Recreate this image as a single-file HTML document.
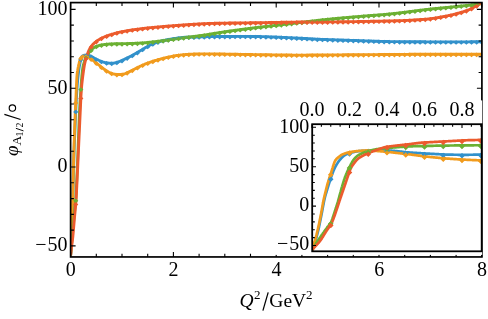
<!DOCTYPE html>
<html><head><meta charset="utf-8"><title>plot</title>
<style>html,body{margin:0;padding:0;background:#fff;}svg{display:block;will-change:transform;}</style></head>
<body>
<svg width="488" height="319" viewBox="0 0 488 319">
<rect width="488" height="319" fill="#fff"/>
<defs><clipPath id="cm"><rect x="70.60" y="2.60" width="411.30" height="254.35"/></clipPath>
<clipPath id="ci"><rect x="312.20" y="124.20" width="169.50" height="127.10"/></clipPath></defs>
<g clip-path="url(#cm)" fill="none" stroke-width="2.90" stroke-linejoin="round" stroke-linecap="butt">
<path d="M70.60 255.33 L70.68 254.07 L70.75 252.77 L70.83 251.42 L70.91 250.03 L70.99 248.58 L71.06 247.09 L71.14 245.54 L71.22 243.94 L71.30 242.29 L71.30 242.22 L71.37 240.57 L71.45 238.80 L71.53 236.96 L71.61 235.06 L71.68 233.09 L71.76 231.06 L71.84 228.99 L71.92 226.89 L71.99 224.74 L72.00 224.57 L72.07 222.55 L72.15 220.30 L72.23 217.99 L72.30 215.62 L72.38 213.17 L72.46 210.65 L72.54 208.05 L72.61 205.36 L72.69 202.59 L72.70 202.26 L72.77 199.81 L72.85 197.01 L72.92 194.19 L73.00 191.36 L73.08 188.52 L73.16 185.67 L73.23 182.81 L73.31 179.94 L73.39 177.05 L73.40 176.57 L73.47 174.08 L73.54 171.06 L73.62 168.01 L73.70 164.97 L73.78 161.98 L73.85 159.06 L73.93 156.24 L74.01 153.57 L74.09 151.11 L74.10 150.64 L74.16 148.84 L74.24 146.73 L74.32 144.73 L74.40 142.82 L74.47 140.96 L74.55 139.11 L74.63 137.25 L74.71 135.37 L74.78 133.50 L74.80 133.04 L74.86 131.63 L74.94 129.77 L75.02 127.92 L75.09 126.08 L75.17 124.25 L75.25 122.44 L75.33 120.64 L75.40 118.86 L75.48 117.09 L75.50 116.59 L75.56 115.34 L75.64 113.60 L75.71 111.89 L75.79 110.20 L75.87 108.53 L75.95 106.90 L76.02 105.30 L76.10 103.74 L76.18 102.21 L76.20 101.72 L76.26 100.72 L76.33 99.27 L76.41 97.85 L76.49 96.48 L76.57 95.15 L76.64 93.86 L76.72 92.61 L76.80 91.40 L76.88 90.24 L76.90 89.82 L76.95 89.11 L77.03 88.01 L77.11 86.94 L77.19 85.90 L77.26 84.89 L77.34 83.91 L77.42 82.95 L77.50 82.03 L77.57 81.13 L77.61 80.78 L77.65 80.26 L77.73 79.42 L77.81 78.60 L77.88 77.82 L77.96 77.05 L78.04 76.32 L78.12 75.61 L78.19 74.92 L78.27 74.26 L78.31 73.97 L78.35 73.61 L78.43 72.98 L78.50 72.36 L78.58 71.75 L78.66 71.15 L78.74 70.56 L78.81 69.98 L78.89 69.42 L78.97 68.87 L79.01 68.62 L79.05 68.34 L79.12 67.83 L79.20 67.33 L79.28 66.85 L79.36 66.38 L79.43 65.94 L79.51 65.51 L79.59 65.11 L79.67 64.72 L79.71 64.52 L79.74 64.34 L79.82 63.96 L79.90 63.58 L79.98 63.21 L80.05 62.83 L80.13 62.46 L80.21 62.09 L80.29 61.73 L80.36 61.37 L80.41 61.17 L80.44 61.02 L80.52 60.67 L80.60 60.34 L80.67 60.01 L80.75 59.69 L80.83 59.38 L80.91 59.08 L80.98 58.79 L81.06 58.52 L81.11 58.36 L81.14 58.25 L81.22 58.00 L81.29 57.77 L81.37 57.55 L81.45 57.34 L81.53 57.15 L81.60 56.98 L81.68 56.83 L81.76 56.69 L81.81 56.62 L81.84 56.58 L81.91 56.48 L81.99 56.41 L82.07 56.35 L82.15 56.29 L82.22 56.23 L82.30 56.17 L82.38 56.12 L82.46 56.06 L82.51 56.03 L82.53 56.01 L82.61 55.96 L82.69 55.91 L82.77 55.87 L82.84 55.82 L82.92 55.78 L83.00 55.73 L83.08 55.69 L83.15 55.65 L83.21 55.62 L83.23 55.61 L83.31 55.58 L83.39 55.54 L83.46 55.51 L83.54 55.48 L83.62 55.45 L83.70 55.42 L83.77 55.39 L83.85 55.37 L83.91 55.35 L83.93 55.34 L84.01 55.32 L84.08 55.30 L84.16 55.28 L84.24 55.27 L84.32 55.25 L84.39 55.24 L84.47 55.23 L84.55 55.22 L84.61 55.21 L84.63 55.21 L84.70 55.20 L84.78 55.20 L84.86 55.20 L84.94 55.19 L85.01 55.19 L85.09 55.19 L85.17 55.18 L85.25 55.18 L85.31 55.17 L85.32 55.17 L85.40 55.17 L85.48 55.16 L85.56 55.16 L85.63 55.15 L85.71 55.15 L85.79 55.14 L85.87 55.14 L85.94 55.13 L86.01 55.13 L86.02 55.13 L86.71 55.12 L87.41 55.18 L88.11 55.32 L88.81 55.48 L89.51 55.68 L90.21 55.93 L90.91 56.25 L91.62 56.60 L92.32 56.97 L93.02 57.36 L93.72 57.75 L94.42 58.15 L95.12 58.54 L95.82 58.91 L96.52 59.27 L97.22 59.60 L97.92 59.92 L98.62 60.23 L99.32 60.54 L100.02 60.83 L100.72 61.12 L101.42 61.39 L102.12 61.64 L102.82 61.88 L103.52 62.09 L104.22 62.28 L104.93 62.45 L105.63 62.60 L106.33 62.73 L107.03 62.85 L107.73 62.95 L108.43 63.04 L109.13 63.11 L109.83 63.17 L110.53 63.21 L111.23 63.23 L111.93 63.22 L112.63 63.19 L113.33 63.13 L114.03 63.04 L114.73 62.91 L115.43 62.74 L116.13 62.55 L116.83 62.36 L117.53 62.15 L118.23 61.92 L118.94 61.68 L119.64 61.43 L120.34 61.16 L121.04 60.86 L121.74 60.55 L122.44 60.23 L123.14 59.90 L123.84 59.58 L124.54 59.25 L125.24 58.91 L125.94 58.57 L126.64 58.23 L127.34 57.88 L128.04 57.54 L128.74 57.19 L129.44 56.85 L130.14 56.50 L130.84 56.15 L131.54 55.79 L132.24 55.41 L132.95 55.03 L133.65 54.64 L134.35 54.24 L135.05 53.84 L135.75 53.43 L136.45 53.02 L137.15 52.61 L137.85 52.20 L138.55 51.78 L139.25 51.37 L139.95 50.96 L140.65 50.54 L141.35 50.12 L142.05 49.70 L142.75 49.28 L143.45 48.86 L144.15 48.44 L144.85 48.02 L145.55 47.61 L146.26 47.21 L146.96 46.81 L147.66 46.43 L148.36 46.06 L149.06 45.69 L149.76 45.32 L150.46 44.97 L151.16 44.63 L151.86 44.30 L152.56 43.99 L153.26 43.69 L153.96 43.40 L154.66 43.13 L155.36 42.87 L156.06 42.61 L156.76 42.37 L157.46 42.14 L158.16 41.92 L158.86 41.70 L159.56 41.50 L160.27 41.31 L160.97 41.12 L161.67 40.95 L162.37 40.78 L163.07 40.63 L163.77 40.47 L164.47 40.32 L165.17 40.17 L165.87 40.02 L166.57 39.88 L167.27 39.74 L167.97 39.60 L168.67 39.47 L169.37 39.34 L170.07 39.21 L170.77 39.09 L171.47 38.98 L172.17 38.86 L172.87 38.75 L173.58 38.65 L174.28 38.55 L174.98 38.45 L175.68 38.35 L176.38 38.25 L177.08 38.16 L177.78 38.06 L178.48 37.97 L179.18 37.88 L179.88 37.79 L180.58 37.70 L181.28 37.62 L181.98 37.55 L182.68 37.48 L183.38 37.41 L184.08 37.36 L184.78 37.31 L185.48 37.26 L186.18 37.23 L186.88 37.20 L187.59 37.18 L188.29 37.17 L188.99 37.15 L189.69 37.13 L190.39 37.11 L191.09 37.10 L191.79 37.08 L192.49 37.06 L193.19 37.05 L193.89 37.03 L194.59 37.01 L195.29 36.99 L195.99 36.98 L196.69 36.96 L197.39 36.94 L198.09 36.92 L198.79 36.91 L199.49 36.89 L200.19 36.87 L200.90 36.85 L201.60 36.83 L202.30 36.81 L203.00 36.79 L203.70 36.77 L204.40 36.75 L205.10 36.73 L205.80 36.71 L206.50 36.69 L207.20 36.67 L207.90 36.65 L208.60 36.63 L209.30 36.62 L210.00 36.60 L210.70 36.59 L211.40 36.57 L212.10 36.56 L212.80 36.55 L213.50 36.55 L214.20 36.54 L214.91 36.53 L215.61 36.53 L216.31 36.52 L217.01 36.52 L217.71 36.51 L218.41 36.51 L219.11 36.51 L219.81 36.50 L220.51 36.50 L221.21 36.49 L221.91 36.49 L222.61 36.48 L223.31 36.48 L224.01 36.47 L224.71 36.47 L225.41 36.46 L226.11 36.46 L226.81 36.46 L227.51 36.45 L228.21 36.45 L228.92 36.44 L229.62 36.44 L230.32 36.44 L231.02 36.43 L231.72 36.43 L232.42 36.43 L233.12 36.42 L233.82 36.42 L234.52 36.42 L235.22 36.42 L235.92 36.41 L236.62 36.41 L237.32 36.41 L238.02 36.41 L238.72 36.40 L239.42 36.40 L240.12 36.40 L240.82 36.40 L241.52 36.40 L242.23 36.40 L242.93 36.40 L243.63 36.40 L244.33 36.40 L245.03 36.40 L245.73 36.40 L246.43 36.41 L247.13 36.41 L247.83 36.41 L248.53 36.42 L249.23 36.43 L249.93 36.43 L250.63 36.44 L251.33 36.44 L252.03 36.45 L252.73 36.46 L253.43 36.47 L254.13 36.48 L254.83 36.49 L255.53 36.50 L256.24 36.51 L256.94 36.52 L257.64 36.53 L258.34 36.55 L259.04 36.56 L259.74 36.57 L260.44 36.59 L261.14 36.60 L261.84 36.62 L262.54 36.64 L263.24 36.65 L263.94 36.67 L264.64 36.69 L265.34 36.71 L266.04 36.73 L266.74 36.75 L267.44 36.77 L268.14 36.79 L268.84 36.81 L269.55 36.83 L270.25 36.85 L270.95 36.88 L271.65 36.90 L272.35 36.93 L273.05 36.95 L273.75 36.98 L274.45 37.00 L275.15 37.03 L275.85 37.06 L276.55 37.09 L277.25 37.12 L277.95 37.14 L278.65 37.17 L279.35 37.20 L280.05 37.24 L280.75 37.27 L281.45 37.30 L282.15 37.33 L282.85 37.36 L283.56 37.39 L284.26 37.43 L284.96 37.46 L285.66 37.49 L286.36 37.53 L287.06 37.56 L287.76 37.59 L288.46 37.63 L289.16 37.66 L289.86 37.69 L290.56 37.73 L291.26 37.76 L291.96 37.80 L292.66 37.83 L293.36 37.86 L294.06 37.90 L294.76 37.93 L295.46 37.97 L296.16 38.00 L296.87 38.04 L297.57 38.07 L298.27 38.11 L298.97 38.14 L299.67 38.18 L300.37 38.22 L301.07 38.25 L301.77 38.29 L302.47 38.32 L303.17 38.36 L303.87 38.40 L304.57 38.44 L305.27 38.48 L305.97 38.52 L306.67 38.56 L307.37 38.61 L308.07 38.65 L308.77 38.69 L309.47 38.74 L310.17 38.78 L310.88 38.82 L311.58 38.86 L312.28 38.90 L312.98 38.95 L313.68 38.99 L314.38 39.03 L315.08 39.07 L315.78 39.10 L316.48 39.14 L317.18 39.17 L317.88 39.21 L318.58 39.24 L319.28 39.27 L319.98 39.30 L320.68 39.33 L321.38 39.35 L322.08 39.38 L322.78 39.41 L323.48 39.43 L324.19 39.46 L324.89 39.48 L325.59 39.51 L326.29 39.53 L326.99 39.56 L327.69 39.58 L328.39 39.61 L329.09 39.63 L329.79 39.66 L330.49 39.68 L331.19 39.70 L331.89 39.73 L332.59 39.75 L333.29 39.78 L333.99 39.80 L334.69 39.82 L335.39 39.85 L336.09 39.87 L336.79 39.89 L337.49 39.92 L338.20 39.94 L338.90 39.96 L339.60 39.99 L340.30 40.01 L341.00 40.03 L341.70 40.06 L342.40 40.08 L343.10 40.10 L343.80 40.13 L344.50 40.15 L345.20 40.17 L345.90 40.20 L346.60 40.22 L347.30 40.24 L348.00 40.27 L348.70 40.29 L349.40 40.31 L350.10 40.34 L350.80 40.36 L351.50 40.38 L352.21 40.41 L352.91 40.43 L353.61 40.45 L354.31 40.48 L355.01 40.50 L355.71 40.52 L356.41 40.55 L357.11 40.57 L357.81 40.59 L358.51 40.62 L359.21 40.64 L359.91 40.66 L360.61 40.69 L361.31 40.71 L362.01 40.73 L362.71 40.76 L363.41 40.78 L364.11 40.81 L364.81 40.83 L365.52 40.85 L366.22 40.88 L366.92 40.90 L367.62 40.93 L368.32 40.95 L369.02 40.97 L369.72 41.00 L370.42 41.02 L371.12 41.05 L371.82 41.07 L372.52 41.10 L373.22 41.12 L373.92 41.14 L374.62 41.17 L375.32 41.19 L376.02 41.22 L376.72 41.24 L377.42 41.26 L378.12 41.29 L378.82 41.31 L379.53 41.34 L380.23 41.36 L380.93 41.38 L381.63 41.40 L382.33 41.43 L383.03 41.45 L383.73 41.47 L384.43 41.48 L385.13 41.50 L385.83 41.52 L386.53 41.53 L387.23 41.55 L387.93 41.56 L388.63 41.57 L389.33 41.58 L390.03 41.59 L390.73 41.60 L391.43 41.61 L392.13 41.62 L392.84 41.63 L393.54 41.64 L394.24 41.64 L394.94 41.65 L395.64 41.66 L396.34 41.66 L397.04 41.67 L397.74 41.67 L398.44 41.68 L399.14 41.68 L399.84 41.69 L400.54 41.69 L401.24 41.70 L401.94 41.70 L402.64 41.70 L403.34 41.71 L404.04 41.71 L404.74 41.72 L405.44 41.72 L406.14 41.73 L406.85 41.73 L407.55 41.73 L408.25 41.74 L408.95 41.74 L409.65 41.75 L410.35 41.75 L411.05 41.75 L411.75 41.76 L412.45 41.76 L413.15 41.77 L413.85 41.77 L414.55 41.77 L415.25 41.78 L415.95 41.78 L416.65 41.78 L417.35 41.79 L418.05 41.79 L418.75 41.79 L419.45 41.80 L420.16 41.80 L420.86 41.80 L421.56 41.81 L422.26 41.81 L422.96 41.81 L423.66 41.82 L424.36 41.82 L425.06 41.82 L425.76 41.83 L426.46 41.83 L427.16 41.83 L427.86 41.83 L428.56 41.84 L429.26 41.84 L429.96 41.84 L430.66 41.85 L431.36 41.85 L432.06 41.85 L432.76 41.85 L433.46 41.86 L434.17 41.86 L434.87 41.86 L435.57 41.86 L436.27 41.87 L436.97 41.87 L437.67 41.87 L438.37 41.87 L439.07 41.87 L439.77 41.88 L440.47 41.88 L441.17 41.88 L441.87 41.88 L442.57 41.88 L443.27 41.89 L443.97 41.89 L444.67 41.89 L445.37 41.89 L446.07 41.89 L446.77 41.89 L447.47 41.90 L448.18 41.90 L448.88 41.90 L449.58 41.90 L450.28 41.90 L450.98 41.90 L451.68 41.90 L452.38 41.90 L453.08 41.90 L453.78 41.90 L454.48 41.90 L455.18 41.90 L455.88 41.90 L456.58 41.90 L457.28 41.89 L457.98 41.89 L458.68 41.89 L459.38 41.89 L460.08 41.88 L460.78 41.88 L461.49 41.88 L462.19 41.87 L462.89 41.87 L463.59 41.87 L464.29 41.86 L464.99 41.86 L465.69 41.85 L466.39 41.85 L467.09 41.84 L467.79 41.84 L468.49 41.83 L469.19 41.83 L469.89 41.82 L470.59 41.81 L471.29 41.81 L471.99 41.80 L472.69 41.79 L473.39 41.79 L474.09 41.78 L474.79 41.77 L475.50 41.77 L476.20 41.76 L476.90 41.75 L477.60 41.75 L478.30 41.74 L479.00 41.73 L479.70 41.72 L480.40 41.72 L481.10 41.71 L481.80 41.70" stroke="#3291cb"/>
<path d="M70.60 255.33 L70.68 253.66 L70.75 251.95 L70.83 250.21 L70.91 248.42 L70.99 246.60 L71.06 244.74 L71.14 242.85 L71.22 240.92 L71.30 238.96 L71.30 238.88 L71.37 236.96 L71.45 234.93 L71.53 232.87 L71.61 230.77 L71.68 228.65 L71.76 226.49 L71.84 224.29 L71.92 222.06 L71.99 219.78 L72.00 219.59 L72.07 217.46 L72.15 215.08 L72.23 212.65 L72.30 210.17 L72.38 207.62 L72.46 205.01 L72.54 202.34 L72.61 199.62 L72.69 196.85 L72.70 196.52 L72.77 194.05 L72.85 191.21 L72.92 188.34 L73.00 185.44 L73.08 182.53 L73.16 179.60 L73.23 176.62 L73.31 173.50 L73.39 170.28 L73.40 169.76 L73.47 167.04 L73.54 163.83 L73.62 160.70 L73.70 157.72 L73.78 154.95 L73.85 152.36 L73.93 149.87 L74.01 147.47 L74.09 145.13 L74.10 144.66 L74.16 142.83 L74.24 140.56 L74.32 138.30 L74.40 136.02 L74.47 133.70 L74.55 131.37 L74.63 129.05 L74.71 126.77 L74.78 124.57 L74.80 124.05 L74.86 122.47 L74.94 120.50 L75.02 118.66 L75.09 116.85 L75.17 115.08 L75.25 113.32 L75.33 111.59 L75.40 109.86 L75.48 108.14 L75.50 107.66 L75.56 106.42 L75.64 104.70 L75.71 102.96 L75.79 101.21 L75.87 99.44 L75.95 97.65 L76.02 95.84 L76.10 94.02 L76.18 92.20 L76.20 91.61 L76.26 90.38 L76.33 88.57 L76.41 86.77 L76.49 85.00 L76.57 83.25 L76.64 81.55 L76.72 80.01 L76.80 78.64 L76.88 77.41 L76.90 77.00 L76.95 76.33 L77.03 75.36 L77.11 74.51 L77.19 73.75 L77.26 73.07 L77.34 72.47 L77.42 71.92 L77.50 71.42 L77.57 70.95 L77.61 70.77 L77.65 70.50 L77.73 70.05 L77.81 69.61 L77.88 69.17 L77.96 68.73 L78.04 68.30 L78.12 67.87 L78.19 67.45 L78.27 67.03 L78.31 66.85 L78.35 66.63 L78.43 66.23 L78.50 65.84 L78.58 65.46 L78.66 65.09 L78.74 64.73 L78.81 64.38 L78.89 64.05 L78.97 63.72 L79.01 63.57 L79.05 63.42 L79.12 63.12 L79.20 62.83 L79.28 62.53 L79.36 62.23 L79.43 61.93 L79.51 61.63 L79.59 61.34 L79.67 61.05 L79.71 60.90 L79.74 60.76 L79.82 60.48 L79.90 60.22 L79.98 59.96 L80.05 59.71 L80.13 59.48 L80.21 59.26 L80.29 59.06 L80.36 58.88 L80.41 58.78 L80.44 58.71 L80.52 58.57 L80.60 58.43 L80.67 58.30 L80.75 58.18 L80.83 58.05 L80.91 57.94 L80.98 57.82 L81.06 57.72 L81.11 57.65 L81.14 57.61 L81.22 57.51 L81.29 57.41 L81.37 57.32 L81.45 57.23 L81.53 57.15 L81.60 57.07 L81.68 56.99 L81.76 56.92 L81.81 56.88 L81.84 56.85 L81.91 56.79 L81.99 56.73 L82.07 56.67 L82.15 56.61 L82.22 56.56 L82.30 56.52 L82.38 56.47 L82.46 56.43 L82.51 56.41 L82.53 56.40 L82.61 56.37 L82.69 56.34 L82.77 56.31 L82.84 56.29 L82.92 56.26 L83.00 56.24 L83.08 56.22 L83.15 56.19 L83.21 56.18 L83.23 56.17 L83.31 56.15 L83.39 56.12 L83.46 56.10 L83.54 56.08 L83.62 56.06 L83.70 56.04 L83.77 56.02 L83.85 56.00 L83.91 55.98 L83.93 55.98 L84.01 55.96 L84.08 55.95 L84.16 55.93 L84.24 55.92 L84.32 55.91 L84.39 55.90 L84.47 55.89 L84.55 55.89 L84.61 55.88 L84.63 55.88 L84.70 55.88 L84.78 55.88 L84.86 55.88 L84.94 55.89 L85.01 55.89 L85.09 55.90 L85.17 55.92 L85.25 55.93 L85.31 55.95 L85.32 55.95 L85.40 55.97 L85.48 55.99 L85.56 56.02 L85.63 56.04 L85.71 56.07 L85.79 56.10 L85.87 56.12 L85.94 56.15 L86.01 56.17 L86.02 56.18 L86.71 56.42 L87.41 56.69 L88.11 56.99 L88.81 57.34 L89.51 57.74 L90.21 58.21 L90.91 58.75 L91.62 59.30 L92.32 59.85 L93.02 60.40 L93.72 60.95 L94.42 61.51 L95.12 62.06 L95.82 62.62 L96.52 63.18 L97.22 63.74 L97.92 64.30 L98.62 64.86 L99.32 65.42 L100.02 65.99 L100.72 66.55 L101.42 67.12 L102.12 67.68 L102.82 68.24 L103.52 68.79 L104.22 69.30 L104.93 69.79 L105.63 70.26 L106.33 70.70 L107.03 71.12 L107.73 71.52 L108.43 71.90 L109.13 72.27 L109.83 72.60 L110.53 72.90 L111.23 73.17 L111.93 73.41 L112.63 73.62 L113.33 73.81 L114.03 73.97 L114.73 74.11 L115.43 74.24 L116.13 74.34 L116.83 74.43 L117.53 74.49 L118.23 74.52 L118.94 74.53 L119.64 74.52 L120.34 74.48 L121.04 74.43 L121.74 74.36 L122.44 74.26 L123.14 74.14 L123.84 73.97 L124.54 73.77 L125.24 73.51 L125.94 73.23 L126.64 72.94 L127.34 72.63 L128.04 72.32 L128.74 72.00 L129.44 71.67 L130.14 71.33 L130.84 70.98 L131.54 70.63 L132.24 70.28 L132.95 69.92 L133.65 69.55 L134.35 69.19 L135.05 68.83 L135.75 68.46 L136.45 68.10 L137.15 67.74 L137.85 67.39 L138.55 67.04 L139.25 66.69 L139.95 66.36 L140.65 66.03 L141.35 65.71 L142.05 65.39 L142.75 65.08 L143.45 64.78 L144.15 64.49 L144.85 64.19 L145.55 63.91 L146.26 63.63 L146.96 63.36 L147.66 63.09 L148.36 62.83 L149.06 62.58 L149.76 62.33 L150.46 62.08 L151.16 61.84 L151.86 61.61 L152.56 61.38 L153.26 61.15 L153.96 60.93 L154.66 60.71 L155.36 60.50 L156.06 60.29 L156.76 60.08 L157.46 59.88 L158.16 59.68 L158.86 59.48 L159.56 59.29 L160.27 59.10 L160.97 58.91 L161.67 58.73 L162.37 58.54 L163.07 58.37 L163.77 58.19 L164.47 58.02 L165.17 57.85 L165.87 57.68 L166.57 57.51 L167.27 57.35 L167.97 57.19 L168.67 57.04 L169.37 56.88 L170.07 56.73 L170.77 56.59 L171.47 56.44 L172.17 56.30 L172.87 56.17 L173.58 56.03 L174.28 55.91 L174.98 55.78 L175.68 55.66 L176.38 55.55 L177.08 55.44 L177.78 55.34 L178.48 55.24 L179.18 55.15 L179.88 55.07 L180.58 54.99 L181.28 54.92 L181.98 54.86 L182.68 54.79 L183.38 54.73 L184.08 54.67 L184.78 54.62 L185.48 54.56 L186.18 54.51 L186.88 54.46 L187.59 54.41 L188.29 54.36 L188.99 54.32 L189.69 54.28 L190.39 54.24 L191.09 54.20 L191.79 54.16 L192.49 54.13 L193.19 54.10 L193.89 54.07 L194.59 54.04 L195.29 54.01 L195.99 53.99 L196.69 53.97 L197.39 53.95 L198.09 53.94 L198.79 53.93 L199.49 53.92 L200.19 53.91 L200.90 53.90 L201.60 53.90 L202.30 53.90 L203.00 53.90 L203.70 53.90 L204.40 53.90 L205.10 53.90 L205.80 53.90 L206.50 53.90 L207.20 53.90 L207.90 53.91 L208.60 53.91 L209.30 53.91 L210.00 53.91 L210.70 53.91 L211.40 53.92 L212.10 53.92 L212.80 53.92 L213.50 53.93 L214.20 53.93 L214.91 53.94 L215.61 53.95 L216.31 53.95 L217.01 53.96 L217.71 53.97 L218.41 53.98 L219.11 53.99 L219.81 54.00 L220.51 54.01 L221.21 54.02 L221.91 54.03 L222.61 54.04 L223.31 54.05 L224.01 54.07 L224.71 54.08 L225.41 54.09 L226.11 54.10 L226.81 54.11 L227.51 54.12 L228.21 54.14 L228.92 54.15 L229.62 54.16 L230.32 54.17 L231.02 54.19 L231.72 54.20 L232.42 54.21 L233.12 54.22 L233.82 54.24 L234.52 54.25 L235.22 54.26 L235.92 54.28 L236.62 54.29 L237.32 54.30 L238.02 54.31 L238.72 54.33 L239.42 54.34 L240.12 54.35 L240.82 54.36 L241.52 54.38 L242.23 54.39 L242.93 54.40 L243.63 54.42 L244.33 54.43 L245.03 54.44 L245.73 54.45 L246.43 54.47 L247.13 54.48 L247.83 54.49 L248.53 54.50 L249.23 54.51 L249.93 54.53 L250.63 54.54 L251.33 54.55 L252.03 54.56 L252.73 54.57 L253.43 54.59 L254.13 54.60 L254.83 54.61 L255.53 54.62 L256.24 54.63 L256.94 54.64 L257.64 54.65 L258.34 54.66 L259.04 54.67 L259.74 54.68 L260.44 54.69 L261.14 54.70 L261.84 54.71 L262.54 54.72 L263.24 54.73 L263.94 54.74 L264.64 54.75 L265.34 54.76 L266.04 54.77 L266.74 54.78 L267.44 54.79 L268.14 54.80 L268.84 54.81 L269.55 54.82 L270.25 54.83 L270.95 54.84 L271.65 54.85 L272.35 54.86 L273.05 54.87 L273.75 54.88 L274.45 54.89 L275.15 54.90 L275.85 54.91 L276.55 54.92 L277.25 54.93 L277.95 54.94 L278.65 54.95 L279.35 54.96 L280.05 54.97 L280.75 54.98 L281.45 54.98 L282.15 54.99 L282.85 55.00 L283.56 55.01 L284.26 55.02 L284.96 55.02 L285.66 55.03 L286.36 55.04 L287.06 55.04 L287.76 55.05 L288.46 55.06 L289.16 55.06 L289.86 55.07 L290.56 55.07 L291.26 55.08 L291.96 55.08 L292.66 55.08 L293.36 55.09 L294.06 55.09 L294.76 55.09 L295.46 55.10 L296.16 55.10 L296.87 55.10 L297.57 55.10 L298.27 55.10 L298.97 55.10 L299.67 55.10 L300.37 55.10 L301.07 55.10 L301.77 55.10 L302.47 55.10 L303.17 55.10 L303.87 55.09 L304.57 55.09 L305.27 55.09 L305.97 55.09 L306.67 55.08 L307.37 55.08 L308.07 55.08 L308.77 55.07 L309.47 55.07 L310.17 55.07 L310.88 55.06 L311.58 55.06 L312.28 55.05 L312.98 55.05 L313.68 55.04 L314.38 55.04 L315.08 55.03 L315.78 55.03 L316.48 55.03 L317.18 55.02 L317.88 55.02 L318.58 55.01 L319.28 55.01 L319.98 55.00 L320.68 55.00 L321.38 54.99 L322.08 54.98 L322.78 54.98 L323.48 54.97 L324.19 54.97 L324.89 54.96 L325.59 54.96 L326.29 54.95 L326.99 54.95 L327.69 54.94 L328.39 54.94 L329.09 54.93 L329.79 54.93 L330.49 54.92 L331.19 54.92 L331.89 54.91 L332.59 54.91 L333.29 54.90 L333.99 54.90 L334.69 54.89 L335.39 54.89 L336.09 54.88 L336.79 54.88 L337.49 54.87 L338.20 54.87 L338.90 54.86 L339.60 54.86 L340.30 54.85 L341.00 54.85 L341.70 54.84 L342.40 54.84 L343.10 54.83 L343.80 54.83 L344.50 54.82 L345.20 54.82 L345.90 54.81 L346.60 54.81 L347.30 54.80 L348.00 54.80 L348.70 54.79 L349.40 54.78 L350.10 54.78 L350.80 54.77 L351.50 54.77 L352.21 54.76 L352.91 54.76 L353.61 54.75 L354.31 54.75 L355.01 54.74 L355.71 54.74 L356.41 54.73 L357.11 54.73 L357.81 54.72 L358.51 54.72 L359.21 54.71 L359.91 54.71 L360.61 54.70 L361.31 54.70 L362.01 54.69 L362.71 54.69 L363.41 54.68 L364.11 54.68 L364.81 54.67 L365.52 54.67 L366.22 54.66 L366.92 54.66 L367.62 54.65 L368.32 54.65 L369.02 54.64 L369.72 54.64 L370.42 54.63 L371.12 54.63 L371.82 54.62 L372.52 54.62 L373.22 54.61 L373.92 54.61 L374.62 54.60 L375.32 54.60 L376.02 54.59 L376.72 54.58 L377.42 54.58 L378.12 54.57 L378.82 54.57 L379.53 54.56 L380.23 54.56 L380.93 54.55 L381.63 54.55 L382.33 54.54 L383.03 54.54 L383.73 54.53 L384.43 54.53 L385.13 54.52 L385.83 54.52 L386.53 54.51 L387.23 54.51 L387.93 54.50 L388.63 54.50 L389.33 54.49 L390.03 54.49 L390.73 54.48 L391.43 54.48 L392.13 54.47 L392.84 54.47 L393.54 54.46 L394.24 54.46 L394.94 54.45 L395.64 54.45 L396.34 54.44 L397.04 54.44 L397.74 54.43 L398.44 54.43 L399.14 54.42 L399.84 54.42 L400.54 54.41 L401.24 54.41 L401.94 54.40 L402.64 54.39 L403.34 54.39 L404.04 54.38 L404.74 54.37 L405.44 54.37 L406.14 54.36 L406.85 54.35 L407.55 54.34 L408.25 54.33 L408.95 54.32 L409.65 54.31 L410.35 54.30 L411.05 54.29 L411.75 54.28 L412.45 54.27 L413.15 54.26 L413.85 54.25 L414.55 54.24 L415.25 54.24 L415.95 54.23 L416.65 54.22 L417.35 54.22 L418.05 54.21 L418.75 54.21 L419.45 54.20 L420.16 54.20 L420.86 54.20 L421.56 54.20 L422.26 54.19 L422.96 54.19 L423.66 54.19 L424.36 54.19 L425.06 54.20 L425.76 54.20 L426.46 54.20 L427.16 54.20 L427.86 54.20 L428.56 54.20 L429.26 54.21 L429.96 54.21 L430.66 54.21 L431.36 54.22 L432.06 54.22 L432.76 54.22 L433.46 54.23 L434.17 54.23 L434.87 54.23 L435.57 54.24 L436.27 54.24 L436.97 54.25 L437.67 54.25 L438.37 54.25 L439.07 54.26 L439.77 54.26 L440.47 54.27 L441.17 54.27 L441.87 54.27 L442.57 54.28 L443.27 54.28 L443.97 54.28 L444.67 54.29 L445.37 54.29 L446.07 54.29 L446.77 54.29 L447.47 54.30 L448.18 54.30 L448.88 54.30 L449.58 54.30 L450.28 54.30 L450.98 54.30 L451.68 54.30 L452.38 54.30 L453.08 54.30 L453.78 54.30 L454.48 54.30 L455.18 54.30 L455.88 54.30 L456.58 54.30 L457.28 54.30 L457.98 54.31 L458.68 54.31 L459.38 54.31 L460.08 54.31 L460.78 54.31 L461.49 54.31 L462.19 54.31 L462.89 54.31 L463.59 54.31 L464.29 54.31 L464.99 54.31 L465.69 54.31 L466.39 54.31 L467.09 54.31 L467.79 54.31 L468.49 54.31 L469.19 54.31 L469.89 54.31 L470.59 54.31 L471.29 54.31 L471.99 54.31 L472.69 54.31 L473.39 54.31 L474.09 54.31 L474.79 54.31 L475.50 54.31 L476.20 54.31 L476.90 54.31 L477.60 54.31 L478.30 54.30 L479.00 54.30 L479.70 54.30 L480.40 54.30 L481.10 54.30 L481.80 54.30" stroke="#f19b1d"/>
<path d="M70.60 255.33 L70.68 254.48 L70.75 253.61 L70.83 252.73 L70.91 251.84 L70.99 250.94 L71.06 250.03 L71.14 249.12 L71.22 248.20 L71.30 247.26 L71.30 247.23 L71.37 246.30 L71.45 245.30 L71.53 244.30 L71.61 243.29 L71.68 242.29 L71.76 241.32 L71.84 240.37 L71.92 239.46 L71.99 238.57 L72.00 238.50 L72.07 237.70 L72.15 236.83 L72.23 235.97 L72.30 235.12 L72.38 234.28 L72.46 233.44 L72.54 232.61 L72.61 231.78 L72.69 230.96 L72.70 230.86 L72.77 230.14 L72.85 229.33 L72.92 228.53 L73.00 227.72 L73.08 226.92 L73.16 226.12 L73.23 225.32 L73.31 224.52 L73.39 223.73 L73.40 223.60 L73.47 222.93 L73.54 222.13 L73.62 221.34 L73.70 220.54 L73.78 219.75 L73.85 218.96 L73.93 218.16 L74.01 217.37 L74.09 216.57 L74.10 216.41 L74.16 215.78 L74.24 214.99 L74.32 214.22 L74.40 213.45 L74.47 212.69 L74.55 211.94 L74.63 211.19 L74.71 210.45 L74.78 209.71 L74.80 209.53 L74.86 208.97 L74.94 208.23 L75.02 207.48 L75.09 206.74 L75.17 205.99 L75.25 205.23 L75.33 204.47 L75.40 203.69 L75.48 202.91 L75.50 202.69 L75.56 202.11 L75.64 201.31 L75.71 200.48 L75.79 199.64 L75.87 198.71 L75.95 197.51 L76.02 196.11 L76.10 194.54 L76.18 192.86 L76.20 192.31 L76.26 191.12 L76.33 189.37 L76.41 187.66 L76.49 185.95 L76.57 184.24 L76.64 182.53 L76.72 180.81 L76.80 179.09 L76.88 177.36 L76.90 176.73 L76.95 175.62 L77.03 173.88 L77.11 172.13 L77.19 170.37 L77.26 168.59 L77.34 166.81 L77.42 165.03 L77.50 163.22 L77.57 161.40 L77.61 160.66 L77.65 159.55 L77.73 157.66 L77.81 155.73 L77.88 153.71 L77.96 151.57 L78.04 149.38 L78.12 147.20 L78.19 145.10 L78.27 143.03 L78.31 142.11 L78.35 140.96 L78.43 138.90 L78.50 136.85 L78.58 134.81 L78.66 132.79 L78.74 130.79 L78.81 128.80 L78.89 126.84 L78.97 124.89 L79.01 123.96 L79.05 122.98 L79.12 121.09 L79.20 119.23 L79.28 117.40 L79.36 115.60 L79.43 113.85 L79.51 112.17 L79.59 110.54 L79.67 108.97 L79.71 108.17 L79.74 107.46 L79.82 105.99 L79.90 104.57 L79.98 103.20 L80.05 101.86 L80.13 100.55 L80.21 99.28 L80.29 98.04 L80.36 96.82 L80.41 96.14 L80.44 95.62 L80.52 94.43 L80.60 93.26 L80.67 92.10 L80.75 90.94 L80.83 89.79 L80.91 88.63 L80.98 87.49 L81.06 86.35 L81.11 85.67 L81.14 85.23 L81.22 84.13 L81.29 83.04 L81.37 81.98 L81.45 80.94 L81.53 79.93 L81.60 78.95 L81.68 78.01 L81.76 77.10 L81.81 76.53 L81.84 76.23 L81.91 75.40 L81.99 74.61 L82.07 73.87 L82.15 73.16 L82.22 72.46 L82.30 71.79 L82.38 71.13 L82.46 70.50 L82.51 70.08 L82.53 69.89 L82.61 69.30 L82.69 68.74 L82.77 68.20 L82.84 67.68 L82.92 67.19 L83.00 66.72 L83.08 66.28 L83.15 65.87 L83.21 65.58 L83.23 65.48 L83.31 65.12 L83.39 64.78 L83.46 64.47 L83.54 64.19 L83.62 63.94 L83.70 63.70 L83.77 63.45 L83.85 63.21 L83.91 63.03 L83.93 62.97 L84.01 62.73 L84.08 62.49 L84.16 62.26 L84.24 62.02 L84.32 61.79 L84.39 61.56 L84.47 61.33 L84.55 61.11 L84.61 60.93 L84.63 60.88 L84.70 60.66 L84.78 60.45 L84.86 60.23 L84.94 60.02 L85.01 59.81 L85.09 59.61 L85.17 59.41 L85.25 59.21 L85.31 59.05 L85.32 59.02 L85.40 58.83 L85.48 58.65 L85.56 58.47 L85.63 58.30 L85.71 58.13 L85.79 57.96 L85.87 57.80 L85.94 57.64 L86.01 57.51 L86.02 57.49 L86.71 56.32 L87.41 55.17 L88.11 54.05 L88.81 52.98 L89.51 52.00 L90.21 51.15 L90.91 50.34 L91.62 49.58 L92.32 48.88 L93.02 48.29 L93.72 47.77 L94.42 47.29 L95.12 46.88 L95.82 46.55 L96.52 46.29 L97.22 46.06 L97.92 45.83 L98.62 45.62 L99.32 45.42 L100.02 45.24 L100.72 45.08 L101.42 44.94 L102.12 44.83 L102.82 44.73 L103.52 44.63 L104.22 44.54 L104.93 44.45 L105.63 44.36 L106.33 44.29 L107.03 44.22 L107.73 44.15 L108.43 44.10 L109.13 44.06 L109.83 44.02 L110.53 43.97 L111.23 43.93 L111.93 43.90 L112.63 43.86 L113.33 43.83 L114.03 43.81 L114.73 43.80 L115.43 43.79 L116.13 43.78 L116.83 43.76 L117.53 43.75 L118.23 43.74 L118.94 43.73 L119.64 43.72 L120.34 43.71 L121.04 43.70 L121.74 43.68 L122.44 43.67 L123.14 43.66 L123.84 43.65 L124.54 43.64 L125.24 43.63 L125.94 43.62 L126.64 43.60 L127.34 43.59 L128.04 43.58 L128.74 43.56 L129.44 43.54 L130.14 43.51 L130.84 43.49 L131.54 43.46 L132.24 43.43 L132.95 43.40 L133.65 43.37 L134.35 43.34 L135.05 43.31 L135.75 43.28 L136.45 43.24 L137.15 43.21 L137.85 43.17 L138.55 43.13 L139.25 43.10 L139.95 43.06 L140.65 43.02 L141.35 42.99 L142.05 42.95 L142.75 42.90 L143.45 42.86 L144.15 42.80 L144.85 42.75 L145.55 42.69 L146.26 42.62 L146.96 42.54 L147.66 42.47 L148.36 42.39 L149.06 42.31 L149.76 42.23 L150.46 42.15 L151.16 42.07 L151.86 41.99 L152.56 41.91 L153.26 41.83 L153.96 41.75 L154.66 41.66 L155.36 41.58 L156.06 41.50 L156.76 41.42 L157.46 41.34 L158.16 41.25 L158.86 41.17 L159.56 41.08 L160.27 40.99 L160.97 40.90 L161.67 40.81 L162.37 40.72 L163.07 40.63 L163.77 40.54 L164.47 40.44 L165.17 40.34 L165.87 40.25 L166.57 40.15 L167.27 40.05 L167.97 39.95 L168.67 39.85 L169.37 39.75 L170.07 39.64 L170.77 39.54 L171.47 39.44 L172.17 39.34 L172.87 39.23 L173.58 39.13 L174.28 39.03 L174.98 38.92 L175.68 38.82 L176.38 38.72 L177.08 38.62 L177.78 38.52 L178.48 38.42 L179.18 38.32 L179.88 38.22 L180.58 38.13 L181.28 38.03 L181.98 37.94 L182.68 37.84 L183.38 37.75 L184.08 37.66 L184.78 37.57 L185.48 37.48 L186.18 37.39 L186.88 37.31 L187.59 37.22 L188.29 37.13 L188.99 37.05 L189.69 36.96 L190.39 36.88 L191.09 36.80 L191.79 36.71 L192.49 36.63 L193.19 36.54 L193.89 36.46 L194.59 36.37 L195.29 36.28 L195.99 36.20 L196.69 36.11 L197.39 36.02 L198.09 35.93 L198.79 35.84 L199.49 35.74 L200.19 35.65 L200.90 35.55 L201.60 35.46 L202.30 35.36 L203.00 35.26 L203.70 35.15 L204.40 35.05 L205.10 34.94 L205.80 34.83 L206.50 34.71 L207.20 34.60 L207.90 34.48 L208.60 34.37 L209.30 34.25 L210.00 34.13 L210.70 34.01 L211.40 33.89 L212.10 33.78 L212.80 33.66 L213.50 33.54 L214.20 33.42 L214.91 33.31 L215.61 33.19 L216.31 33.07 L217.01 32.96 L217.71 32.85 L218.41 32.74 L219.11 32.63 L219.81 32.53 L220.51 32.42 L221.21 32.32 L221.91 32.22 L222.61 32.12 L223.31 32.01 L224.01 31.91 L224.71 31.81 L225.41 31.71 L226.11 31.61 L226.81 31.51 L227.51 31.40 L228.21 31.30 L228.92 31.20 L229.62 31.10 L230.32 31.00 L231.02 30.90 L231.72 30.81 L232.42 30.71 L233.12 30.61 L233.82 30.51 L234.52 30.41 L235.22 30.32 L235.92 30.22 L236.62 30.12 L237.32 30.03 L238.02 29.93 L238.72 29.84 L239.42 29.74 L240.12 29.65 L240.82 29.56 L241.52 29.46 L242.23 29.37 L242.93 29.28 L243.63 29.19 L244.33 29.09 L245.03 29.00 L245.73 28.91 L246.43 28.82 L247.13 28.72 L247.83 28.63 L248.53 28.54 L249.23 28.45 L249.93 28.36 L250.63 28.27 L251.33 28.18 L252.03 28.09 L252.73 28.00 L253.43 27.92 L254.13 27.83 L254.83 27.74 L255.53 27.65 L256.24 27.57 L256.94 27.48 L257.64 27.40 L258.34 27.31 L259.04 27.23 L259.74 27.15 L260.44 27.07 L261.14 26.98 L261.84 26.90 L262.54 26.82 L263.24 26.74 L263.94 26.66 L264.64 26.58 L265.34 26.51 L266.04 26.43 L266.74 26.35 L267.44 26.27 L268.14 26.19 L268.84 26.12 L269.55 26.04 L270.25 25.96 L270.95 25.88 L271.65 25.81 L272.35 25.73 L273.05 25.65 L273.75 25.57 L274.45 25.50 L275.15 25.42 L275.85 25.34 L276.55 25.26 L277.25 25.18 L277.95 25.11 L278.65 25.03 L279.35 24.95 L280.05 24.87 L280.75 24.79 L281.45 24.71 L282.15 24.62 L282.85 24.54 L283.56 24.46 L284.26 24.38 L284.96 24.30 L285.66 24.22 L286.36 24.14 L287.06 24.05 L287.76 23.97 L288.46 23.89 L289.16 23.81 L289.86 23.73 L290.56 23.64 L291.26 23.56 L291.96 23.48 L292.66 23.40 L293.36 23.32 L294.06 23.23 L294.76 23.15 L295.46 23.07 L296.16 22.99 L296.87 22.90 L297.57 22.82 L298.27 22.74 L298.97 22.66 L299.67 22.57 L300.37 22.49 L301.07 22.41 L301.77 22.33 L302.47 22.24 L303.17 22.16 L303.87 22.08 L304.57 21.99 L305.27 21.91 L305.97 21.82 L306.67 21.73 L307.37 21.65 L308.07 21.56 L308.77 21.47 L309.47 21.38 L310.17 21.29 L310.88 21.21 L311.58 21.12 L312.28 21.03 L312.98 20.94 L313.68 20.86 L314.38 20.77 L315.08 20.68 L315.78 20.60 L316.48 20.51 L317.18 20.43 L317.88 20.35 L318.58 20.26 L319.28 20.18 L319.98 20.10 L320.68 20.02 L321.38 19.95 L322.08 19.87 L322.78 19.79 L323.48 19.72 L324.19 19.64 L324.89 19.57 L325.59 19.50 L326.29 19.43 L326.99 19.36 L327.69 19.29 L328.39 19.22 L329.09 19.15 L329.79 19.08 L330.49 19.02 L331.19 18.95 L331.89 18.89 L332.59 18.82 L333.29 18.76 L333.99 18.69 L334.69 18.63 L335.39 18.56 L336.09 18.50 L336.79 18.44 L337.49 18.37 L338.20 18.31 L338.90 18.25 L339.60 18.18 L340.30 18.12 L341.00 18.05 L341.70 17.99 L342.40 17.93 L343.10 17.87 L343.80 17.80 L344.50 17.74 L345.20 17.68 L345.90 17.61 L346.60 17.55 L347.30 17.49 L348.00 17.43 L348.70 17.37 L349.40 17.30 L350.10 17.24 L350.80 17.18 L351.50 17.12 L352.21 17.06 L352.91 17.00 L353.61 16.94 L354.31 16.88 L355.01 16.81 L355.71 16.75 L356.41 16.69 L357.11 16.63 L357.81 16.57 L358.51 16.51 L359.21 16.45 L359.91 16.39 L360.61 16.33 L361.31 16.27 L362.01 16.21 L362.71 16.16 L363.41 16.10 L364.11 16.04 L364.81 15.99 L365.52 15.93 L366.22 15.88 L366.92 15.83 L367.62 15.77 L368.32 15.72 L369.02 15.67 L369.72 15.61 L370.42 15.56 L371.12 15.51 L371.82 15.46 L372.52 15.40 L373.22 15.35 L373.92 15.30 L374.62 15.25 L375.32 15.19 L376.02 15.14 L376.72 15.09 L377.42 15.03 L378.12 14.98 L378.82 14.92 L379.53 14.86 L380.23 14.81 L380.93 14.75 L381.63 14.69 L382.33 14.63 L383.03 14.57 L383.73 14.51 L384.43 14.45 L385.13 14.38 L385.83 14.32 L386.53 14.25 L387.23 14.19 L387.93 14.12 L388.63 14.06 L389.33 13.99 L390.03 13.92 L390.73 13.85 L391.43 13.78 L392.13 13.71 L392.84 13.64 L393.54 13.56 L394.24 13.49 L394.94 13.41 L395.64 13.34 L396.34 13.26 L397.04 13.18 L397.74 13.10 L398.44 13.02 L399.14 12.94 L399.84 12.86 L400.54 12.78 L401.24 12.69 L401.94 12.61 L402.64 12.52 L403.34 12.43 L404.04 12.35 L404.74 12.26 L405.44 12.17 L406.14 12.08 L406.85 11.99 L407.55 11.90 L408.25 11.81 L408.95 11.72 L409.65 11.63 L410.35 11.54 L411.05 11.45 L411.75 11.36 L412.45 11.27 L413.15 11.18 L413.85 11.08 L414.55 10.99 L415.25 10.90 L415.95 10.81 L416.65 10.72 L417.35 10.63 L418.05 10.55 L418.75 10.46 L419.45 10.37 L420.16 10.28 L420.86 10.19 L421.56 10.10 L422.26 10.02 L422.96 9.93 L423.66 9.84 L424.36 9.75 L425.06 9.66 L425.76 9.58 L426.46 9.49 L427.16 9.41 L427.86 9.33 L428.56 9.25 L429.26 9.17 L429.96 9.10 L430.66 9.02 L431.36 8.95 L432.06 8.88 L432.76 8.80 L433.46 8.73 L434.17 8.66 L434.87 8.60 L435.57 8.53 L436.27 8.46 L436.97 8.39 L437.67 8.32 L438.37 8.26 L439.07 8.19 L439.77 8.13 L440.47 8.06 L441.17 7.99 L441.87 7.93 L442.57 7.86 L443.27 7.80 L443.97 7.73 L444.67 7.67 L445.37 7.60 L446.07 7.53 L446.77 7.47 L447.47 7.40 L448.18 7.33 L448.88 7.26 L449.58 7.19 L450.28 7.12 L450.98 7.05 L451.68 6.98 L452.38 6.91 L453.08 6.84 L453.78 6.77 L454.48 6.70 L455.18 6.63 L455.88 6.56 L456.58 6.49 L457.28 6.42 L457.98 6.35 L458.68 6.28 L459.38 6.21 L460.08 6.13 L460.78 6.06 L461.49 5.99 L462.19 5.92 L462.89 5.85 L463.59 5.77 L464.29 5.70 L464.99 5.63 L465.69 5.56 L466.39 5.48 L467.09 5.41 L467.79 5.33 L468.49 5.26 L469.19 5.19 L469.89 5.11 L470.59 5.04 L471.29 4.95 L471.99 4.87 L472.69 4.78 L473.39 4.69 L474.09 4.60 L474.79 4.50 L475.50 4.40 L476.20 4.30 L476.90 4.19 L477.60 4.09 L478.30 3.98 L479.00 3.87 L479.70 3.76 L480.40 3.64 L481.10 3.53 L481.80 3.42" stroke="#6bb033"/>
<path d="M70.60 255.33 L70.68 254.63 L70.75 253.93 L70.83 253.24 L70.91 252.56 L70.99 251.88 L71.06 251.20 L71.14 250.52 L71.22 249.85 L71.30 249.17 L71.30 249.14 L71.37 248.51 L71.45 247.86 L71.53 247.23 L71.61 246.62 L71.68 246.01 L71.76 245.41 L71.84 244.82 L71.92 244.23 L71.99 243.64 L72.00 243.59 L72.07 243.05 L72.15 242.45 L72.23 241.85 L72.30 241.24 L72.38 240.62 L72.46 239.98 L72.54 239.32 L72.61 238.65 L72.69 237.95 L72.70 237.86 L72.77 237.23 L72.85 236.48 L72.92 235.70 L73.00 234.90 L73.08 234.08 L73.16 233.23 L73.23 232.37 L73.31 231.49 L73.39 230.59 L73.40 230.44 L73.47 229.68 L73.54 228.76 L73.62 227.84 L73.70 226.91 L73.78 225.97 L73.85 225.04 L73.93 224.10 L74.01 223.17 L74.09 222.24 L74.10 222.05 L74.16 221.32 L74.24 220.41 L74.32 219.51 L74.40 218.62 L74.47 217.75 L74.55 216.89 L74.63 216.05 L74.71 215.21 L74.78 214.38 L74.80 214.18 L74.86 213.56 L74.94 212.74 L75.02 211.93 L75.09 211.11 L75.17 210.29 L75.25 209.47 L75.33 208.64 L75.40 207.80 L75.48 206.95 L75.50 206.71 L75.56 206.09 L75.64 205.22 L75.71 204.32 L75.79 203.41 L75.87 202.42 L75.95 201.36 L76.02 200.22 L76.10 199.02 L76.18 197.76 L76.20 197.34 L76.26 196.44 L76.33 195.07 L76.41 193.64 L76.49 192.17 L76.57 190.66 L76.64 189.11 L76.72 187.53 L76.80 185.92 L76.88 184.28 L76.90 183.68 L76.95 182.63 L77.03 180.98 L77.11 179.32 L77.19 177.65 L77.26 175.98 L77.34 174.31 L77.42 172.63 L77.50 170.94 L77.57 169.25 L77.61 168.56 L77.65 167.54 L77.73 165.83 L77.81 164.11 L77.88 162.38 L77.96 160.62 L78.04 158.87 L78.12 157.14 L78.19 155.43 L78.27 153.77 L78.31 153.03 L78.35 152.12 L78.43 150.49 L78.50 148.87 L78.58 147.25 L78.66 145.61 L78.74 143.96 L78.81 142.30 L78.89 140.63 L78.97 138.96 L79.01 138.16 L79.05 137.30 L79.12 135.63 L79.20 133.96 L79.28 132.30 L79.36 130.63 L79.43 128.96 L79.51 127.30 L79.59 125.63 L79.67 123.96 L79.71 123.09 L79.74 122.29 L79.82 120.63 L79.90 118.96 L79.98 117.29 L80.05 115.63 L80.13 113.96 L80.21 112.29 L80.29 110.62 L80.36 108.95 L80.41 108.01 L80.44 107.29 L80.52 105.62 L80.60 103.95 L80.67 102.28 L80.75 100.62 L80.83 98.95 L80.91 97.31 L80.98 95.77 L81.06 94.34 L81.11 93.52 L81.14 93.00 L81.22 91.75 L81.29 90.58 L81.37 89.49 L81.45 88.47 L81.53 87.52 L81.60 86.62 L81.68 85.77 L81.76 84.97 L81.81 84.48 L81.84 84.21 L81.91 83.48 L81.99 82.78 L82.07 82.10 L82.15 81.43 L82.22 80.76 L82.30 80.10 L82.38 79.44 L82.46 78.80 L82.51 78.36 L82.53 78.16 L82.61 77.53 L82.69 76.90 L82.77 76.29 L82.84 75.68 L82.92 75.08 L83.00 74.48 L83.08 73.90 L83.15 73.32 L83.21 72.91 L83.23 72.76 L83.31 72.20 L83.39 71.65 L83.46 71.11 L83.54 70.58 L83.62 70.06 L83.70 69.54 L83.77 69.01 L83.85 68.49 L83.91 68.09 L83.93 67.97 L84.01 67.46 L84.08 66.97 L84.16 66.48 L84.24 66.02 L84.32 65.57 L84.39 65.14 L84.47 64.75 L84.55 64.37 L84.61 64.08 L84.63 64.00 L84.70 63.64 L84.78 63.29 L84.86 62.94 L84.94 62.59 L85.01 62.25 L85.09 61.92 L85.17 61.59 L85.25 61.26 L85.31 60.99 L85.32 60.94 L85.40 60.63 L85.48 60.32 L85.56 60.01 L85.63 59.71 L85.71 59.42 L85.79 59.13 L85.87 58.84 L85.94 58.56 L86.01 58.31 L86.02 58.28 L86.71 56.00 L87.41 54.03 L88.11 52.26 L88.81 50.59 L89.51 49.14 L90.21 47.97 L90.91 46.92 L91.62 45.93 L92.32 45.04 L93.02 44.28 L93.72 43.60 L94.42 42.95 L95.12 42.33 L95.82 41.78 L96.52 41.28 L97.22 40.80 L97.92 40.32 L98.62 39.86 L99.32 39.41 L100.02 38.98 L100.72 38.58 L101.42 38.21 L102.12 37.88 L102.82 37.57 L103.52 37.28 L104.22 36.99 L104.93 36.70 L105.63 36.43 L106.33 36.16 L107.03 35.91 L107.73 35.66 L108.43 35.42 L109.13 35.20 L109.83 34.97 L110.53 34.74 L111.23 34.52 L111.93 34.30 L112.63 34.08 L113.33 33.87 L114.03 33.66 L114.73 33.46 L115.43 33.26 L116.13 33.06 L116.83 32.87 L117.53 32.68 L118.23 32.49 L118.94 32.32 L119.64 32.15 L120.34 32.00 L121.04 31.85 L121.74 31.72 L122.44 31.59 L123.14 31.46 L123.84 31.33 L124.54 31.21 L125.24 31.08 L125.94 30.96 L126.64 30.84 L127.34 30.72 L128.04 30.60 L128.74 30.48 L129.44 30.36 L130.14 30.24 L130.84 30.12 L131.54 30.01 L132.24 29.90 L132.95 29.81 L133.65 29.72 L134.35 29.63 L135.05 29.54 L135.75 29.45 L136.45 29.36 L137.15 29.26 L137.85 29.17 L138.55 29.08 L139.25 28.99 L139.95 28.90 L140.65 28.81 L141.35 28.72 L142.05 28.63 L142.75 28.54 L143.45 28.45 L144.15 28.36 L144.85 28.27 L145.55 28.18 L146.26 28.09 L146.96 28.01 L147.66 27.94 L148.36 27.86 L149.06 27.79 L149.76 27.72 L150.46 27.66 L151.16 27.59 L151.86 27.52 L152.56 27.45 L153.26 27.39 L153.96 27.32 L154.66 27.26 L155.36 27.19 L156.06 27.13 L156.76 27.07 L157.46 27.00 L158.16 26.94 L158.86 26.88 L159.56 26.82 L160.27 26.76 L160.97 26.70 L161.67 26.64 L162.37 26.59 L163.07 26.53 L163.77 26.47 L164.47 26.41 L165.17 26.36 L165.87 26.30 L166.57 26.24 L167.27 26.19 L167.97 26.13 L168.67 26.08 L169.37 26.02 L170.07 25.97 L170.77 25.91 L171.47 25.86 L172.17 25.80 L172.87 25.75 L173.58 25.69 L174.28 25.64 L174.98 25.59 L175.68 25.53 L176.38 25.48 L177.08 25.43 L177.78 25.38 L178.48 25.32 L179.18 25.27 L179.88 25.22 L180.58 25.17 L181.28 25.12 L181.98 25.06 L182.68 25.01 L183.38 24.96 L184.08 24.91 L184.78 24.86 L185.48 24.81 L186.18 24.76 L186.88 24.71 L187.59 24.67 L188.29 24.62 L188.99 24.57 L189.69 24.52 L190.39 24.48 L191.09 24.43 L191.79 24.39 L192.49 24.34 L193.19 24.30 L193.89 24.26 L194.59 24.21 L195.29 24.17 L195.99 24.13 L196.69 24.09 L197.39 24.05 L198.09 24.01 L198.79 23.97 L199.49 23.93 L200.19 23.89 L200.90 23.86 L201.60 23.82 L202.30 23.79 L203.00 23.75 L203.70 23.72 L204.40 23.69 L205.10 23.65 L205.80 23.62 L206.50 23.59 L207.20 23.57 L207.90 23.54 L208.60 23.51 L209.30 23.48 L210.00 23.46 L210.70 23.44 L211.40 23.41 L212.10 23.39 L212.80 23.37 L213.50 23.35 L214.20 23.33 L214.91 23.31 L215.61 23.29 L216.31 23.28 L217.01 23.26 L217.71 23.24 L218.41 23.23 L219.11 23.22 L219.81 23.20 L220.51 23.19 L221.21 23.18 L221.91 23.17 L222.61 23.16 L223.31 23.14 L224.01 23.13 L224.71 23.12 L225.41 23.11 L226.11 23.10 L226.81 23.09 L227.51 23.08 L228.21 23.07 L228.92 23.06 L229.62 23.04 L230.32 23.03 L231.02 23.02 L231.72 23.01 L232.42 23.00 L233.12 22.99 L233.82 22.98 L234.52 22.97 L235.22 22.97 L235.92 22.96 L236.62 22.95 L237.32 22.94 L238.02 22.93 L238.72 22.92 L239.42 22.91 L240.12 22.90 L240.82 22.90 L241.52 22.89 L242.23 22.88 L242.93 22.87 L243.63 22.87 L244.33 22.86 L245.03 22.86 L245.73 22.85 L246.43 22.84 L247.13 22.84 L247.83 22.83 L248.53 22.83 L249.23 22.82 L249.93 22.81 L250.63 22.81 L251.33 22.80 L252.03 22.80 L252.73 22.79 L253.43 22.79 L254.13 22.78 L254.83 22.77 L255.53 22.77 L256.24 22.76 L256.94 22.75 L257.64 22.74 L258.34 22.74 L259.04 22.73 L259.74 22.72 L260.44 22.71 L261.14 22.70 L261.84 22.69 L262.54 22.68 L263.24 22.66 L263.94 22.65 L264.64 22.64 L265.34 22.63 L266.04 22.61 L266.74 22.60 L267.44 22.59 L268.14 22.57 L268.84 22.56 L269.55 22.54 L270.25 22.53 L270.95 22.51 L271.65 22.50 L272.35 22.48 L273.05 22.47 L273.75 22.45 L274.45 22.44 L275.15 22.42 L275.85 22.41 L276.55 22.40 L277.25 22.38 L277.95 22.37 L278.65 22.35 L279.35 22.34 L280.05 22.33 L280.75 22.31 L281.45 22.30 L282.15 22.29 L282.85 22.28 L283.56 22.26 L284.26 22.25 L284.96 22.24 L285.66 22.23 L286.36 22.22 L287.06 22.21 L287.76 22.19 L288.46 22.18 L289.16 22.17 L289.86 22.16 L290.56 22.15 L291.26 22.14 L291.96 22.13 L292.66 22.12 L293.36 22.11 L294.06 22.10 L294.76 22.09 L295.46 22.08 L296.16 22.07 L296.87 22.06 L297.57 22.05 L298.27 22.04 L298.97 22.03 L299.67 22.03 L300.37 22.02 L301.07 22.01 L301.77 22.00 L302.47 22.00 L303.17 21.99 L303.87 21.99 L304.57 21.98 L305.27 21.98 L305.97 21.98 L306.67 21.98 L307.37 21.98 L308.07 21.98 L308.77 21.99 L309.47 21.99 L310.17 21.99 L310.88 21.99 L311.58 22.00 L312.28 22.00 L312.98 22.00 L313.68 22.01 L314.38 22.01 L315.08 22.01 L315.78 22.01 L316.48 22.01 L317.18 22.01 L317.88 22.01 L318.58 22.01 L319.28 22.01 L319.98 22.00 L320.68 21.99 L321.38 21.99 L322.08 21.98 L322.78 21.98 L323.48 21.97 L324.19 21.96 L324.89 21.96 L325.59 21.95 L326.29 21.95 L326.99 21.94 L327.69 21.93 L328.39 21.93 L329.09 21.92 L329.79 21.91 L330.49 21.91 L331.19 21.90 L331.89 21.89 L332.59 21.89 L333.29 21.88 L333.99 21.87 L334.69 21.86 L335.39 21.86 L336.09 21.85 L336.79 21.84 L337.49 21.83 L338.20 21.82 L338.90 21.82 L339.60 21.81 L340.30 21.80 L341.00 21.79 L341.70 21.78 L342.40 21.77 L343.10 21.77 L343.80 21.76 L344.50 21.75 L345.20 21.74 L345.90 21.73 L346.60 21.72 L347.30 21.71 L348.00 21.70 L348.70 21.69 L349.40 21.68 L350.10 21.67 L350.80 21.66 L351.50 21.65 L352.21 21.64 L352.91 21.63 L353.61 21.62 L354.31 21.61 L355.01 21.60 L355.71 21.59 L356.41 21.58 L357.11 21.57 L357.81 21.55 L358.51 21.54 L359.21 21.53 L359.91 21.52 L360.61 21.51 L361.31 21.49 L362.01 21.48 L362.71 21.47 L363.41 21.46 L364.11 21.44 L364.81 21.43 L365.52 21.42 L366.22 21.41 L366.92 21.39 L367.62 21.38 L368.32 21.37 L369.02 21.35 L369.72 21.34 L370.42 21.32 L371.12 21.31 L371.82 21.30 L372.52 21.28 L373.22 21.27 L373.92 21.25 L374.62 21.24 L375.32 21.23 L376.02 21.21 L376.72 21.20 L377.42 21.18 L378.12 21.17 L378.82 21.15 L379.53 21.14 L380.23 21.13 L380.93 21.11 L381.63 21.10 L382.33 21.08 L383.03 21.07 L383.73 21.05 L384.43 21.04 L385.13 21.02 L385.83 21.01 L386.53 20.99 L387.23 20.98 L387.93 20.96 L388.63 20.95 L389.33 20.93 L390.03 20.91 L390.73 20.90 L391.43 20.88 L392.13 20.87 L392.84 20.85 L393.54 20.83 L394.24 20.81 L394.94 20.80 L395.64 20.78 L396.34 20.76 L397.04 20.74 L397.74 20.72 L398.44 20.70 L399.14 20.68 L399.84 20.66 L400.54 20.64 L401.24 20.62 L401.94 20.60 L402.64 20.58 L403.34 20.56 L404.04 20.53 L404.74 20.50 L405.44 20.47 L406.14 20.44 L406.85 20.40 L407.55 20.37 L408.25 20.33 L408.95 20.29 L409.65 20.25 L410.35 20.21 L411.05 20.17 L411.75 20.13 L412.45 20.08 L413.15 20.04 L413.85 19.99 L414.55 19.95 L415.25 19.90 L415.95 19.86 L416.65 19.81 L417.35 19.77 L418.05 19.72 L418.75 19.68 L419.45 19.63 L420.16 19.59 L420.86 19.55 L421.56 19.50 L422.26 19.46 L422.96 19.41 L423.66 19.36 L424.36 19.31 L425.06 19.25 L425.76 19.20 L426.46 19.14 L427.16 19.08 L427.86 19.01 L428.56 18.94 L429.26 18.87 L429.96 18.79 L430.66 18.71 L431.36 18.62 L432.06 18.52 L432.76 18.42 L433.46 18.32 L434.17 18.21 L434.87 18.10 L435.57 17.98 L436.27 17.87 L436.97 17.75 L437.67 17.63 L438.37 17.51 L439.07 17.39 L439.77 17.27 L440.47 17.14 L441.17 17.02 L441.87 16.89 L442.57 16.77 L443.27 16.64 L443.97 16.50 L444.67 16.37 L445.37 16.24 L446.07 16.10 L446.77 15.96 L447.47 15.82 L448.18 15.68 L448.88 15.53 L449.58 15.38 L450.28 15.23 L450.98 15.08 L451.68 14.91 L452.38 14.75 L453.08 14.57 L453.78 14.40 L454.48 14.22 L455.18 14.03 L455.88 13.85 L456.58 13.66 L457.28 13.46 L457.98 13.27 L458.68 13.07 L459.38 12.87 L460.08 12.68 L460.78 12.48 L461.49 12.27 L462.19 12.07 L462.89 11.86 L463.59 11.64 L464.29 11.42 L464.99 11.19 L465.69 10.95 L466.39 10.70 L467.09 10.44 L467.79 10.16 L468.49 9.87 L469.19 9.57 L469.89 9.25 L470.59 8.92 L471.29 8.57 L471.99 8.22 L472.69 7.86 L473.39 7.50 L474.09 7.13 L474.79 6.75 L475.50 6.37 L476.20 5.99 L476.90 5.61 L477.60 5.22 L478.30 4.83 L479.00 4.44 L479.70 4.06 L480.40 3.69 L481.10 3.32 L481.80 2.95" stroke="#ec5b2d"/>
<path d="M73.19 111.92 l2.55 -2.35 l2.55 2.35 l-2.55 2.35 zM78.33 59.78 l2.55 -2.35 l2.55 2.35 l-2.55 2.35 zM83.47 55.73 l2.55 -2.35 l2.55 2.35 l-2.55 2.35 zM88.61 56.97 l2.55 -2.35 l2.55 2.35 l-2.55 2.35 zM93.75 59.76 l2.55 -2.35 l2.55 2.35 l-2.55 2.35 zM98.89 61.99 l2.55 -2.35 l2.55 2.35 l-2.55 2.35 zM104.03 63.38 l2.55 -2.35 l2.55 2.35 l-2.55 2.35 zM109.17 63.83 l2.55 -2.35 l2.55 2.35 l-2.55 2.35 zM114.31 62.95 l2.55 -2.35 l2.55 2.35 l-2.55 2.35 zM119.45 61.03 l2.55 -2.35 l2.55 2.35 l-2.55 2.35 zM124.59 58.58 l2.55 -2.35 l2.55 2.35 l-2.55 2.35 zM129.73 55.99 l2.55 -2.35 l2.55 2.35 l-2.55 2.35 zM134.87 53.05 l2.55 -2.35 l2.55 2.35 l-2.55 2.35 zM140.01 49.99 l2.55 -2.35 l2.55 2.35 l-2.55 2.35 zM145.15 47.01 l2.55 -2.35 l2.55 2.35 l-2.55 2.35 zM150.29 44.46 l2.55 -2.35 l2.55 2.35 l-2.55 2.35 zM155.43 42.57 l2.55 -2.35 l2.55 2.35 l-2.55 2.35 zM160.57 41.21 l2.55 -2.35 l2.55 2.35 l-2.55 2.35 zM165.71 40.15 l2.55 -2.35 l2.55 2.35 l-2.55 2.35 zM170.85 39.27 l2.55 -2.35 l2.55 2.35 l-2.55 2.35 zM175.99 38.56 l2.55 -2.35 l2.55 2.35 l-2.55 2.35 zM181.13 37.99 l2.55 -2.35 l2.55 2.35 l-2.55 2.35 zM186.27 37.75 l2.55 -2.35 l2.55 2.35 l-2.55 2.35 zM191.41 37.63 l2.55 -2.35 l2.55 2.35 l-2.55 2.35 zM196.55 37.50 l2.55 -2.35 l2.55 2.35 l-2.55 2.35 zM201.69 37.35 l2.55 -2.35 l2.55 2.35 l-2.55 2.35 zM206.83 37.21 l2.55 -2.35 l2.55 2.35 l-2.55 2.35 zM211.97 37.14 l2.55 -2.35 l2.55 2.35 l-2.55 2.35 zM217.11 37.10 l2.55 -2.35 l2.55 2.35 l-2.55 2.35 zM222.25 37.07 l2.55 -2.35 l2.55 2.35 l-2.55 2.35 zM227.39 37.04 l2.55 -2.35 l2.55 2.35 l-2.55 2.35 zM232.53 37.02 l2.55 -2.35 l2.55 2.35 l-2.55 2.35 zM237.67 37.00 l2.55 -2.35 l2.55 2.35 l-2.55 2.35 zM242.81 37.00 l2.55 -2.35 l2.55 2.35 l-2.55 2.35 zM247.95 37.04 l2.55 -2.35 l2.55 2.35 l-2.55 2.35 zM253.09 37.10 l2.55 -2.35 l2.55 2.35 l-2.55 2.35 zM258.23 37.20 l2.55 -2.35 l2.55 2.35 l-2.55 2.35 zM263.37 37.32 l2.55 -2.35 l2.55 2.35 l-2.55 2.35 zM268.51 37.48 l2.55 -2.35 l2.55 2.35 l-2.55 2.35 zM273.65 37.67 l2.55 -2.35 l2.55 2.35 l-2.55 2.35 zM278.79 37.89 l2.55 -2.35 l2.55 2.35 l-2.55 2.35 zM283.93 38.13 l2.55 -2.35 l2.55 2.35 l-2.55 2.35 zM289.07 38.38 l2.55 -2.35 l2.55 2.35 l-2.55 2.35 zM294.21 38.63 l2.55 -2.35 l2.55 2.35 l-2.55 2.35 zM299.35 38.89 l2.55 -2.35 l2.55 2.35 l-2.55 2.35 zM304.49 39.19 l2.55 -2.35 l2.55 2.35 l-2.55 2.35 zM309.63 39.50 l2.55 -2.35 l2.55 2.35 l-2.55 2.35 zM314.77 39.78 l2.55 -2.35 l2.55 2.35 l-2.55 2.35 zM319.91 39.99 l2.55 -2.35 l2.55 2.35 l-2.55 2.35 zM325.05 40.18 l2.55 -2.35 l2.55 2.35 l-2.55 2.35 zM330.19 40.36 l2.55 -2.35 l2.55 2.35 l-2.55 2.35 zM335.33 40.53 l2.55 -2.35 l2.55 2.35 l-2.55 2.35 zM340.47 40.70 l2.55 -2.35 l2.55 2.35 l-2.55 2.35 zM345.61 40.87 l2.55 -2.35 l2.55 2.35 l-2.55 2.35 zM350.75 41.04 l2.55 -2.35 l2.55 2.35 l-2.55 2.35 zM355.89 41.21 l2.55 -2.35 l2.55 2.35 l-2.55 2.35 zM361.03 41.39 l2.55 -2.35 l2.55 2.35 l-2.55 2.35 zM366.17 41.56 l2.55 -2.35 l2.55 2.35 l-2.55 2.35 zM371.31 41.74 l2.55 -2.35 l2.55 2.35 l-2.55 2.35 zM376.45 41.92 l2.55 -2.35 l2.55 2.35 l-2.55 2.35 zM381.59 42.08 l2.55 -2.35 l2.55 2.35 l-2.55 2.35 zM386.73 42.18 l2.55 -2.35 l2.55 2.35 l-2.55 2.35 zM391.87 42.25 l2.55 -2.35 l2.55 2.35 l-2.55 2.35 zM397.01 42.28 l2.55 -2.35 l2.55 2.35 l-2.55 2.35 zM402.15 42.32 l2.55 -2.35 l2.55 2.35 l-2.55 2.35 zM407.29 42.35 l2.55 -2.35 l2.55 2.35 l-2.55 2.35 zM412.43 42.38 l2.55 -2.35 l2.55 2.35 l-2.55 2.35 zM417.57 42.40 l2.55 -2.35 l2.55 2.35 l-2.55 2.35 zM422.71 42.42 l2.55 -2.35 l2.55 2.35 l-2.55 2.35 zM427.85 42.44 l2.55 -2.35 l2.55 2.35 l-2.55 2.35 zM432.99 42.46 l2.55 -2.35 l2.55 2.35 l-2.55 2.35 zM438.13 42.48 l2.55 -2.35 l2.55 2.35 l-2.55 2.35 zM443.27 42.49 l2.55 -2.35 l2.55 2.35 l-2.55 2.35 zM448.41 42.50 l2.55 -2.35 l2.55 2.35 l-2.55 2.35 zM453.55 42.50 l2.55 -2.35 l2.55 2.35 l-2.55 2.35 zM458.69 42.48 l2.55 -2.35 l2.55 2.35 l-2.55 2.35 zM463.83 42.45 l2.55 -2.35 l2.55 2.35 l-2.55 2.35 zM468.97 42.41 l2.55 -2.35 l2.55 2.35 l-2.55 2.35 zM474.11 42.36 l2.55 -2.35 l2.55 2.35 l-2.55 2.35 zM479.25 42.30 l2.55 -2.35 l2.55 2.35 l-2.55 2.35 z" fill="#3291cb" stroke="none"/>
<path d="M73.19 102.98 l2.55 -2.35 l2.55 2.35 l-2.55 2.35 zM78.33 58.58 l2.55 -2.35 l2.55 2.35 l-2.55 2.35 zM83.47 56.78 l2.55 -2.35 l2.55 2.35 l-2.55 2.35 zM88.61 59.54 l2.55 -2.35 l2.55 2.35 l-2.55 2.35 zM93.75 63.60 l2.55 -2.35 l2.55 2.35 l-2.55 2.35 zM98.89 67.73 l2.55 -2.35 l2.55 2.35 l-2.55 2.35 zM104.03 71.45 l2.55 -2.35 l2.55 2.35 l-2.55 2.35 zM109.17 73.94 l2.55 -2.35 l2.55 2.35 l-2.55 2.35 zM114.31 75.03 l2.55 -2.35 l2.55 2.35 l-2.55 2.35 zM119.45 74.93 l2.55 -2.35 l2.55 2.35 l-2.55 2.35 zM124.59 73.32 l2.55 -2.35 l2.55 2.35 l-2.55 2.35 zM129.73 70.86 l2.55 -2.35 l2.55 2.35 l-2.55 2.35 zM134.87 68.20 l2.55 -2.35 l2.55 2.35 l-2.55 2.35 zM140.01 65.77 l2.55 -2.35 l2.55 2.35 l-2.55 2.35 zM145.15 63.67 l2.55 -2.35 l2.55 2.35 l-2.55 2.35 zM150.29 61.89 l2.55 -2.35 l2.55 2.35 l-2.55 2.35 zM155.43 60.33 l2.55 -2.35 l2.55 2.35 l-2.55 2.35 zM160.57 58.95 l2.55 -2.35 l2.55 2.35 l-2.55 2.35 zM165.71 57.73 l2.55 -2.35 l2.55 2.35 l-2.55 2.35 zM170.85 56.67 l2.55 -2.35 l2.55 2.35 l-2.55 2.35 zM175.99 55.83 l2.55 -2.35 l2.55 2.35 l-2.55 2.35 zM181.13 55.31 l2.55 -2.35 l2.55 2.35 l-2.55 2.35 zM186.27 54.93 l2.55 -2.35 l2.55 2.35 l-2.55 2.35 zM191.41 54.66 l2.55 -2.35 l2.55 2.35 l-2.55 2.35 zM196.55 54.52 l2.55 -2.35 l2.55 2.35 l-2.55 2.35 zM201.69 54.50 l2.55 -2.35 l2.55 2.35 l-2.55 2.35 zM206.83 54.51 l2.55 -2.35 l2.55 2.35 l-2.55 2.35 zM211.97 54.54 l2.55 -2.35 l2.55 2.35 l-2.55 2.35 zM217.11 54.59 l2.55 -2.35 l2.55 2.35 l-2.55 2.35 zM222.25 54.68 l2.55 -2.35 l2.55 2.35 l-2.55 2.35 zM227.39 54.77 l2.55 -2.35 l2.55 2.35 l-2.55 2.35 zM232.53 54.86 l2.55 -2.35 l2.55 2.35 l-2.55 2.35 zM237.67 54.95 l2.55 -2.35 l2.55 2.35 l-2.55 2.35 zM242.81 55.05 l2.55 -2.35 l2.55 2.35 l-2.55 2.35 zM247.95 55.14 l2.55 -2.35 l2.55 2.35 l-2.55 2.35 zM253.09 55.22 l2.55 -2.35 l2.55 2.35 l-2.55 2.35 zM258.23 55.30 l2.55 -2.35 l2.55 2.35 l-2.55 2.35 zM263.37 55.37 l2.55 -2.35 l2.55 2.35 l-2.55 2.35 zM268.51 55.45 l2.55 -2.35 l2.55 2.35 l-2.55 2.35 zM273.65 55.52 l2.55 -2.35 l2.55 2.35 l-2.55 2.35 zM278.79 55.58 l2.55 -2.35 l2.55 2.35 l-2.55 2.35 zM283.93 55.64 l2.55 -2.35 l2.55 2.35 l-2.55 2.35 zM289.07 55.68 l2.55 -2.35 l2.55 2.35 l-2.55 2.35 zM294.21 55.70 l2.55 -2.35 l2.55 2.35 l-2.55 2.35 zM299.35 55.70 l2.55 -2.35 l2.55 2.35 l-2.55 2.35 zM304.49 55.68 l2.55 -2.35 l2.55 2.35 l-2.55 2.35 zM309.63 55.65 l2.55 -2.35 l2.55 2.35 l-2.55 2.35 zM314.77 55.62 l2.55 -2.35 l2.55 2.35 l-2.55 2.35 zM319.91 55.58 l2.55 -2.35 l2.55 2.35 l-2.55 2.35 zM325.05 55.54 l2.55 -2.35 l2.55 2.35 l-2.55 2.35 zM330.19 55.51 l2.55 -2.35 l2.55 2.35 l-2.55 2.35 zM335.33 55.47 l2.55 -2.35 l2.55 2.35 l-2.55 2.35 zM340.47 55.43 l2.55 -2.35 l2.55 2.35 l-2.55 2.35 zM345.61 55.39 l2.55 -2.35 l2.55 2.35 l-2.55 2.35 zM350.75 55.36 l2.55 -2.35 l2.55 2.35 l-2.55 2.35 zM355.89 55.32 l2.55 -2.35 l2.55 2.35 l-2.55 2.35 zM361.03 55.28 l2.55 -2.35 l2.55 2.35 l-2.55 2.35 zM366.17 55.24 l2.55 -2.35 l2.55 2.35 l-2.55 2.35 zM371.31 55.21 l2.55 -2.35 l2.55 2.35 l-2.55 2.35 zM376.45 55.17 l2.55 -2.35 l2.55 2.35 l-2.55 2.35 zM381.59 55.13 l2.55 -2.35 l2.55 2.35 l-2.55 2.35 zM386.73 55.09 l2.55 -2.35 l2.55 2.35 l-2.55 2.35 zM391.87 55.06 l2.55 -2.35 l2.55 2.35 l-2.55 2.35 zM397.01 55.02 l2.55 -2.35 l2.55 2.35 l-2.55 2.35 zM402.15 54.97 l2.55 -2.35 l2.55 2.35 l-2.55 2.35 zM407.29 54.91 l2.55 -2.35 l2.55 2.35 l-2.55 2.35 zM412.43 54.84 l2.55 -2.35 l2.55 2.35 l-2.55 2.35 zM417.57 54.80 l2.55 -2.35 l2.55 2.35 l-2.55 2.35 zM422.71 54.80 l2.55 -2.35 l2.55 2.35 l-2.55 2.35 zM427.85 54.81 l2.55 -2.35 l2.55 2.35 l-2.55 2.35 zM432.99 54.84 l2.55 -2.35 l2.55 2.35 l-2.55 2.35 zM438.13 54.87 l2.55 -2.35 l2.55 2.35 l-2.55 2.35 zM443.27 54.89 l2.55 -2.35 l2.55 2.35 l-2.55 2.35 zM448.41 54.90 l2.55 -2.35 l2.55 2.35 l-2.55 2.35 zM453.55 54.90 l2.55 -2.35 l2.55 2.35 l-2.55 2.35 zM458.69 54.91 l2.55 -2.35 l2.55 2.35 l-2.55 2.35 zM463.83 54.91 l2.55 -2.35 l2.55 2.35 l-2.55 2.35 zM468.97 54.91 l2.55 -2.35 l2.55 2.35 l-2.55 2.35 zM474.11 54.91 l2.55 -2.35 l2.55 2.35 l-2.55 2.35 zM479.25 54.90 l2.55 -2.35 l2.55 2.35 l-2.55 2.35 z" fill="#f19b1d" stroke="none"/>
<path d="M73.19 200.81 l2.55 -2.35 l2.55 2.35 l-2.55 2.35 zM78.33 89.62 l2.55 -2.35 l2.55 2.35 l-2.55 2.35 zM83.47 58.09 l2.55 -2.35 l2.55 2.35 l-2.55 2.35 zM88.61 50.67 l2.55 -2.35 l2.55 2.35 l-2.55 2.35 zM93.75 46.97 l2.55 -2.35 l2.55 2.35 l-2.55 2.35 zM98.89 45.54 l2.55 -2.35 l2.55 2.35 l-2.55 2.35 zM104.03 44.86 l2.55 -2.35 l2.55 2.35 l-2.55 2.35 zM109.17 44.51 l2.55 -2.35 l2.55 2.35 l-2.55 2.35 zM114.31 44.36 l2.55 -2.35 l2.55 2.35 l-2.55 2.35 zM119.45 44.28 l2.55 -2.35 l2.55 2.35 l-2.55 2.35 zM124.59 44.20 l2.55 -2.35 l2.55 2.35 l-2.55 2.35 zM129.73 44.03 l2.55 -2.35 l2.55 2.35 l-2.55 2.35 zM134.87 43.79 l2.55 -2.35 l2.55 2.35 l-2.55 2.35 zM140.01 43.51 l2.55 -2.35 l2.55 2.35 l-2.55 2.35 zM145.15 43.06 l2.55 -2.35 l2.55 2.35 l-2.55 2.35 zM150.29 42.47 l2.55 -2.35 l2.55 2.35 l-2.55 2.35 zM155.43 41.87 l2.55 -2.35 l2.55 2.35 l-2.55 2.35 zM160.57 41.22 l2.55 -2.35 l2.55 2.35 l-2.55 2.35 zM165.71 40.51 l2.55 -2.35 l2.55 2.35 l-2.55 2.35 zM170.85 39.76 l2.55 -2.35 l2.55 2.35 l-2.55 2.35 zM175.99 39.01 l2.55 -2.35 l2.55 2.35 l-2.55 2.35 zM181.13 38.31 l2.55 -2.35 l2.55 2.35 l-2.55 2.35 zM186.27 37.67 l2.55 -2.35 l2.55 2.35 l-2.55 2.35 zM191.41 37.05 l2.55 -2.35 l2.55 2.35 l-2.55 2.35 zM196.55 36.40 l2.55 -2.35 l2.55 2.35 l-2.55 2.35 zM201.69 35.67 l2.55 -2.35 l2.55 2.35 l-2.55 2.35 zM206.83 34.84 l2.55 -2.35 l2.55 2.35 l-2.55 2.35 zM211.97 33.97 l2.55 -2.35 l2.55 2.35 l-2.55 2.35 zM217.11 33.15 l2.55 -2.35 l2.55 2.35 l-2.55 2.35 zM222.25 32.40 l2.55 -2.35 l2.55 2.35 l-2.55 2.35 zM227.39 31.66 l2.55 -2.35 l2.55 2.35 l-2.55 2.35 zM232.53 30.94 l2.55 -2.35 l2.55 2.35 l-2.55 2.35 zM237.67 30.24 l2.55 -2.35 l2.55 2.35 l-2.55 2.35 zM242.81 29.56 l2.55 -2.35 l2.55 2.35 l-2.55 2.35 zM247.95 28.89 l2.55 -2.35 l2.55 2.35 l-2.55 2.35 zM253.09 28.24 l2.55 -2.35 l2.55 2.35 l-2.55 2.35 zM258.23 27.63 l2.55 -2.35 l2.55 2.35 l-2.55 2.35 zM263.37 27.04 l2.55 -2.35 l2.55 2.35 l-2.55 2.35 zM268.51 26.47 l2.55 -2.35 l2.55 2.35 l-2.55 2.35 zM273.65 25.90 l2.55 -2.35 l2.55 2.35 l-2.55 2.35 zM278.79 25.32 l2.55 -2.35 l2.55 2.35 l-2.55 2.35 zM283.93 24.72 l2.55 -2.35 l2.55 2.35 l-2.55 2.35 zM289.07 24.12 l2.55 -2.35 l2.55 2.35 l-2.55 2.35 zM294.21 23.52 l2.55 -2.35 l2.55 2.35 l-2.55 2.35 zM299.35 22.91 l2.55 -2.35 l2.55 2.35 l-2.55 2.35 zM304.49 22.29 l2.55 -2.35 l2.55 2.35 l-2.55 2.35 zM309.63 21.64 l2.55 -2.35 l2.55 2.35 l-2.55 2.35 zM314.77 21.01 l2.55 -2.35 l2.55 2.35 l-2.55 2.35 zM319.91 20.43 l2.55 -2.35 l2.55 2.35 l-2.55 2.35 zM325.05 19.90 l2.55 -2.35 l2.55 2.35 l-2.55 2.35 zM330.19 19.41 l2.55 -2.35 l2.55 2.35 l-2.55 2.35 zM335.33 18.94 l2.55 -2.35 l2.55 2.35 l-2.55 2.35 zM340.47 18.47 l2.55 -2.35 l2.55 2.35 l-2.55 2.35 zM345.61 18.01 l2.55 -2.35 l2.55 2.35 l-2.55 2.35 zM350.75 17.56 l2.55 -2.35 l2.55 2.35 l-2.55 2.35 zM355.89 17.12 l2.55 -2.35 l2.55 2.35 l-2.55 2.35 zM361.03 16.69 l2.55 -2.35 l2.55 2.35 l-2.55 2.35 zM366.17 16.29 l2.55 -2.35 l2.55 2.35 l-2.55 2.35 zM371.31 15.90 l2.55 -2.35 l2.55 2.35 l-2.55 2.35 zM376.45 15.51 l2.55 -2.35 l2.55 2.35 l-2.55 2.35 zM381.59 15.07 l2.55 -2.35 l2.55 2.35 l-2.55 2.35 zM386.73 14.59 l2.55 -2.35 l2.55 2.35 l-2.55 2.35 zM391.87 14.07 l2.55 -2.35 l2.55 2.35 l-2.55 2.35 zM397.01 13.49 l2.55 -2.35 l2.55 2.35 l-2.55 2.35 zM402.15 12.86 l2.55 -2.35 l2.55 2.35 l-2.55 2.35 zM407.29 12.20 l2.55 -2.35 l2.55 2.35 l-2.55 2.35 zM412.43 11.54 l2.55 -2.35 l2.55 2.35 l-2.55 2.35 zM417.57 10.88 l2.55 -2.35 l2.55 2.35 l-2.55 2.35 zM422.71 10.24 l2.55 -2.35 l2.55 2.35 l-2.55 2.35 zM427.85 9.65 l2.55 -2.35 l2.55 2.35 l-2.55 2.35 zM432.99 9.13 l2.55 -2.35 l2.55 2.35 l-2.55 2.35 zM438.13 8.64 l2.55 -2.35 l2.55 2.35 l-2.55 2.35 zM443.27 8.16 l2.55 -2.35 l2.55 2.35 l-2.55 2.35 zM448.41 7.65 l2.55 -2.35 l2.55 2.35 l-2.55 2.35 zM453.55 7.14 l2.55 -2.35 l2.55 2.35 l-2.55 2.35 zM458.69 6.62 l2.55 -2.35 l2.55 2.35 l-2.55 2.35 zM463.83 6.08 l2.55 -2.35 l2.55 2.35 l-2.55 2.35 zM468.97 5.53 l2.55 -2.35 l2.55 2.35 l-2.55 2.35 zM474.11 4.83 l2.55 -2.35 l2.55 2.35 l-2.55 2.35 zM479.25 4.02 l2.55 -2.35 l2.55 2.35 l-2.55 2.35 z" fill="#6bb033" stroke="none"/>
<path d="M73.19 204.62 l2.55 -2.35 l2.55 2.35 l-2.55 2.35 zM78.33 98.45 l2.55 -2.35 l2.55 2.35 l-2.55 2.35 zM83.47 58.88 l2.55 -2.35 l2.55 2.35 l-2.55 2.35 zM88.61 47.16 l2.55 -2.35 l2.55 2.35 l-2.55 2.35 zM93.75 42.03 l2.55 -2.35 l2.55 2.35 l-2.55 2.35 zM98.89 38.80 l2.55 -2.35 l2.55 2.35 l-2.55 2.35 zM104.03 36.67 l2.55 -2.35 l2.55 2.35 l-2.55 2.35 zM109.17 34.97 l2.55 -2.35 l2.55 2.35 l-2.55 2.35 zM114.31 33.46 l2.55 -2.35 l2.55 2.35 l-2.55 2.35 zM119.45 32.27 l2.55 -2.35 l2.55 2.35 l-2.55 2.35 zM124.59 31.36 l2.55 -2.35 l2.55 2.35 l-2.55 2.35 zM129.73 30.50 l2.55 -2.35 l2.55 2.35 l-2.55 2.35 zM134.87 29.83 l2.55 -2.35 l2.55 2.35 l-2.55 2.35 zM140.01 29.17 l2.55 -2.35 l2.55 2.35 l-2.55 2.35 zM145.15 28.53 l2.55 -2.35 l2.55 2.35 l-2.55 2.35 zM150.29 28.03 l2.55 -2.35 l2.55 2.35 l-2.55 2.35 zM155.43 27.56 l2.55 -2.35 l2.55 2.35 l-2.55 2.35 zM160.57 27.12 l2.55 -2.35 l2.55 2.35 l-2.55 2.35 zM165.71 26.71 l2.55 -2.35 l2.55 2.35 l-2.55 2.35 zM170.85 26.31 l2.55 -2.35 l2.55 2.35 l-2.55 2.35 zM175.99 25.92 l2.55 -2.35 l2.55 2.35 l-2.55 2.35 zM181.13 25.54 l2.55 -2.35 l2.55 2.35 l-2.55 2.35 zM186.27 25.18 l2.55 -2.35 l2.55 2.35 l-2.55 2.35 zM191.41 24.85 l2.55 -2.35 l2.55 2.35 l-2.55 2.35 zM196.55 24.55 l2.55 -2.35 l2.55 2.35 l-2.55 2.35 zM201.69 24.29 l2.55 -2.35 l2.55 2.35 l-2.55 2.35 zM206.83 24.08 l2.55 -2.35 l2.55 2.35 l-2.55 2.35 zM211.97 23.92 l2.55 -2.35 l2.55 2.35 l-2.55 2.35 zM217.11 23.81 l2.55 -2.35 l2.55 2.35 l-2.55 2.35 zM222.25 23.72 l2.55 -2.35 l2.55 2.35 l-2.55 2.35 zM227.39 23.64 l2.55 -2.35 l2.55 2.35 l-2.55 2.35 zM232.53 23.57 l2.55 -2.35 l2.55 2.35 l-2.55 2.35 zM237.67 23.50 l2.55 -2.35 l2.55 2.35 l-2.55 2.35 zM242.81 23.45 l2.55 -2.35 l2.55 2.35 l-2.55 2.35 zM247.95 23.41 l2.55 -2.35 l2.55 2.35 l-2.55 2.35 zM253.09 23.36 l2.55 -2.35 l2.55 2.35 l-2.55 2.35 zM258.23 23.30 l2.55 -2.35 l2.55 2.35 l-2.55 2.35 zM263.37 23.22 l2.55 -2.35 l2.55 2.35 l-2.55 2.35 zM268.51 23.11 l2.55 -2.35 l2.55 2.35 l-2.55 2.35 zM273.65 23.00 l2.55 -2.35 l2.55 2.35 l-2.55 2.35 zM278.79 22.90 l2.55 -2.35 l2.55 2.35 l-2.55 2.35 zM283.93 22.81 l2.55 -2.35 l2.55 2.35 l-2.55 2.35 zM289.07 22.73 l2.55 -2.35 l2.55 2.35 l-2.55 2.35 zM294.21 22.66 l2.55 -2.35 l2.55 2.35 l-2.55 2.35 zM299.35 22.60 l2.55 -2.35 l2.55 2.35 l-2.55 2.35 zM304.49 22.58 l2.55 -2.35 l2.55 2.35 l-2.55 2.35 zM309.63 22.60 l2.55 -2.35 l2.55 2.35 l-2.55 2.35 zM314.77 22.61 l2.55 -2.35 l2.55 2.35 l-2.55 2.35 zM319.91 22.58 l2.55 -2.35 l2.55 2.35 l-2.55 2.35 zM325.05 22.53 l2.55 -2.35 l2.55 2.35 l-2.55 2.35 zM330.19 22.48 l2.55 -2.35 l2.55 2.35 l-2.55 2.35 zM335.33 22.43 l2.55 -2.35 l2.55 2.35 l-2.55 2.35 zM340.47 22.37 l2.55 -2.35 l2.55 2.35 l-2.55 2.35 zM345.61 22.30 l2.55 -2.35 l2.55 2.35 l-2.55 2.35 zM350.75 22.23 l2.55 -2.35 l2.55 2.35 l-2.55 2.35 zM355.89 22.14 l2.55 -2.35 l2.55 2.35 l-2.55 2.35 zM361.03 22.05 l2.55 -2.35 l2.55 2.35 l-2.55 2.35 zM366.17 21.96 l2.55 -2.35 l2.55 2.35 l-2.55 2.35 zM371.31 21.86 l2.55 -2.35 l2.55 2.35 l-2.55 2.35 zM376.45 21.75 l2.55 -2.35 l2.55 2.35 l-2.55 2.35 zM381.59 21.65 l2.55 -2.35 l2.55 2.35 l-2.55 2.35 zM386.73 21.53 l2.55 -2.35 l2.55 2.35 l-2.55 2.35 zM391.87 21.41 l2.55 -2.35 l2.55 2.35 l-2.55 2.35 zM397.01 21.27 l2.55 -2.35 l2.55 2.35 l-2.55 2.35 zM402.15 21.10 l2.55 -2.35 l2.55 2.35 l-2.55 2.35 zM407.29 20.84 l2.55 -2.35 l2.55 2.35 l-2.55 2.35 zM412.43 20.52 l2.55 -2.35 l2.55 2.35 l-2.55 2.35 zM417.57 20.19 l2.55 -2.35 l2.55 2.35 l-2.55 2.35 zM422.71 19.84 l2.55 -2.35 l2.55 2.35 l-2.55 2.35 zM427.85 19.34 l2.55 -2.35 l2.55 2.35 l-2.55 2.35 zM432.99 18.59 l2.55 -2.35 l2.55 2.35 l-2.55 2.35 zM438.13 17.71 l2.55 -2.35 l2.55 2.35 l-2.55 2.35 zM443.27 16.75 l2.55 -2.35 l2.55 2.35 l-2.55 2.35 zM448.41 15.68 l2.55 -2.35 l2.55 2.35 l-2.55 2.35 zM453.55 14.39 l2.55 -2.35 l2.55 2.35 l-2.55 2.35 zM458.69 12.95 l2.55 -2.35 l2.55 2.35 l-2.55 2.35 zM463.83 11.30 l2.55 -2.35 l2.55 2.35 l-2.55 2.35 zM468.97 9.06 l2.55 -2.35 l2.55 2.35 l-2.55 2.35 zM474.11 6.34 l2.55 -2.35 l2.55 2.35 l-2.55 2.35 zM479.25 3.55 l2.55 -2.35 l2.55 2.35 l-2.55 2.35 z" fill="#ec5b2d" stroke="none"/>
</g>
<path d="M70.60 256.95 v-5.00M70.60 2.60 v5.00M96.30 256.95 v-3.30M96.30 2.60 v3.30M122.00 256.95 v-3.30M122.00 2.60 v3.30M147.70 256.95 v-3.30M147.70 2.60 v3.30M173.40 256.95 v-5.00M173.40 2.60 v5.00M199.10 256.95 v-3.30M199.10 2.60 v3.30M224.80 256.95 v-3.30M224.80 2.60 v3.30M250.50 256.95 v-3.30M250.50 2.60 v3.30M276.20 256.95 v-5.00M276.20 2.60 v5.00M301.90 256.95 v-3.30M301.90 2.60 v3.30M327.60 256.95 v-3.30M327.60 2.60 v3.30M353.30 256.95 v-3.30M353.30 2.60 v3.30M379.00 256.95 v-5.00M379.00 2.60 v5.00M404.70 256.95 v-3.30M404.70 2.60 v3.30M430.40 256.95 v-3.30M430.40 2.60 v3.30M456.10 256.95 v-3.30M456.10 2.60 v3.30M481.80 256.95 v-5.00M481.80 2.60 v5.00M70.60 245.88 h5.00M481.90 245.88 h-5.00M70.60 230.11 h3.30M481.90 230.11 h-3.30M70.60 214.34 h3.30M481.90 214.34 h-3.30M70.60 198.58 h3.30M481.90 198.58 h-3.30M70.60 182.81 h3.30M481.90 182.81 h-3.30M70.60 167.05 h5.00M481.90 167.05 h-5.00M70.60 151.28 h3.30M481.90 151.28 h-3.30M70.60 135.52 h3.30M481.90 135.52 h-3.30M70.60 119.76 h3.30M481.90 119.76 h-3.30M70.60 103.99 h3.30M481.90 103.99 h-3.30M70.60 88.23 h5.00M481.90 88.23 h-5.00M70.60 72.46 h3.30M481.90 72.46 h-3.30M70.60 56.70 h3.30M481.90 56.70 h-3.30M70.60 40.93 h3.30M481.90 40.93 h-3.30M70.60 25.16 h3.30M481.90 25.16 h-3.30M70.60 9.40 h5.00M481.90 9.40 h-5.00" stroke="#000" stroke-width="1.1" fill="none"/>
<rect x="70.60" y="2.60" width="411.30" height="254.35" fill="none" stroke="#000" stroke-width="1.7"/>
<rect x="266" y="100.4" width="216.20" height="154.50" fill="#fff"/>
<g clip-path="url(#ci)" fill="none" stroke-width="2.70" stroke-linejoin="round">
<path d="M312.00 250.23 L312.28 249.60 L312.50 249.10 L312.57 248.95 L312.85 248.27 L313.00 247.89 L313.13 247.57 L313.41 246.85 L313.50 246.62 L313.70 246.11 L313.98 245.33 L314.00 245.26 L314.26 244.53 L314.51 243.82 L314.54 243.71 L314.83 242.85 L315.01 242.29 L315.11 241.96 L315.39 241.04 L315.51 240.66 L315.67 240.09 L315.96 239.11 L316.01 238.93 L316.24 238.09 L316.51 237.11 L316.52 237.06 L316.81 236.01 L317.01 235.23 L317.09 234.94 L317.37 233.84 L317.51 233.28 L317.65 232.72 L317.94 231.56 L318.01 231.24 L318.22 230.38 L318.50 229.15 L318.51 229.10 L318.78 227.89 L319.02 226.83 L319.07 226.59 L319.35 225.25 L319.52 224.43 L319.63 223.87 L319.91 222.48 L320.02 221.97 L320.20 221.08 L320.48 219.67 L320.52 219.47 L320.76 218.25 L321.02 216.96 L321.05 216.83 L321.33 215.41 L321.52 214.43 L321.61 213.98 L321.89 212.54 L322.02 211.89 L322.18 211.10 L322.46 209.61 L322.52 209.27 L322.74 208.10 L323.02 206.58 L323.02 206.58 L323.31 205.06 L323.53 203.90 L323.59 203.57 L323.87 202.11 L324.03 201.33 L324.15 200.70 L324.44 199.36 L324.53 198.96 L324.72 198.13 L325.00 197.00 L325.03 196.90 L325.29 195.94 L325.53 195.07 L325.57 194.94 L325.85 193.99 L326.03 193.39 L326.13 193.06 L326.42 192.14 L326.53 191.76 L326.70 191.21 L326.98 190.27 L327.03 190.09 L327.26 189.33 L327.53 188.44 L327.55 188.40 L327.83 187.47 L328.04 186.79 L328.11 186.54 L328.39 185.62 L328.54 185.16 L328.68 184.71 L328.96 183.80 L329.04 183.55 L329.24 182.90 L329.53 182.01 L329.54 181.97 L329.81 181.13 L330.04 180.41 L330.09 180.25 L330.37 179.38 L330.54 178.88 L330.66 178.53 L330.94 177.68 L331.04 177.38 L331.22 176.85 L331.50 176.03 L331.54 175.92 L331.79 175.23 L332.04 174.52 L332.07 174.45 L332.35 173.69 L332.55 173.18 L332.63 172.94 L332.92 172.22 L333.05 171.89 L333.20 171.51 L333.48 170.83 L333.55 170.67 L333.77 170.16 L334.05 169.51 L334.05 169.51 L334.33 168.89 L334.55 168.42 L334.61 168.29 L334.90 167.71 L335.05 167.39 L335.18 167.14 L335.46 166.59 L335.55 166.42 L335.74 166.06 L336.03 165.54 L336.05 165.49 L336.31 165.04 L336.55 164.61 L336.59 164.55 L336.87 164.08 L337.06 163.78 L337.16 163.61 L337.44 163.17 L337.56 162.99 L337.72 162.73 L338.01 162.31 L338.06 162.24 L338.29 161.91 L338.56 161.53 L338.57 161.51 L338.85 161.13 L339.06 160.86 L339.14 160.76 L339.42 160.40 L339.56 160.23 L339.70 160.05 L339.98 159.72 L340.06 159.63 L340.27 159.39 L340.55 159.06 L340.56 159.05 L340.83 158.74 L341.06 158.48 L341.11 158.43 L341.40 158.11 L341.57 157.93 L341.68 157.81 L341.96 157.51 L342.07 157.40 L342.24 157.22 L342.53 156.94 L342.57 156.90 L342.81 156.67 L343.07 156.43 L343.09 156.41 L343.38 156.16 L343.57 155.99 L343.66 155.92 L343.94 155.70 L344.07 155.60 L344.22 155.49 L344.51 155.30 L344.57 155.26 L344.79 155.12 L345.07 154.96 L345.07 154.96 L345.35 154.81 L345.57 154.69 L345.64 154.66 L345.92 154.51 L346.08 154.43 L346.20 154.37 L346.48 154.23 L346.58 154.19 L346.77 154.10 L347.05 153.97 L347.08 153.96 L347.33 153.84 L347.58 153.74 L347.62 153.73 L347.90 153.61 L348.08 153.54 L348.18 153.50 L348.46 153.40 L348.58 153.36 L348.75 153.30 L349.03 153.21 L349.08 153.20 L349.31 153.13 L349.58 153.06 L349.59 153.05 L349.88 152.98 L350.08 152.93 L350.16 152.91 L350.44 152.84 L350.59 152.81 L350.72 152.77 L351.01 152.70 L351.09 152.68 L351.29 152.63 L351.57 152.56 L351.59 152.56 L351.86 152.49 L352.09 152.43 L352.14 152.42 L352.42 152.35 L352.59 152.31 L352.70 152.28 L352.99 152.22 L353.09 152.19 L353.27 152.15 L353.55 152.08 L353.59 152.07 L353.83 152.02 L354.09 151.96 L354.12 151.95 L354.40 151.89 L354.59 151.85 L354.68 151.83 L354.96 151.77 L355.10 151.74 L355.25 151.71 L355.53 151.65 L355.60 151.64 L355.81 151.60 L356.10 151.54 L356.10 151.54 L356.38 151.49 L356.60 151.45 L356.66 151.44 L356.94 151.39 L357.10 151.37 L357.23 151.35 L357.51 151.31 L357.60 151.30 L357.79 151.27 L358.07 151.23 L358.10 151.23 L358.36 151.20 L358.60 151.17 L358.64 151.17 L358.92 151.14 L359.10 151.12 L359.20 151.12 L359.49 151.09 L359.61 151.09 L359.77 151.07 L360.05 151.05 L360.11 151.05 L360.34 151.03 L360.61 151.01 L360.62 151.01 L360.90 150.99 L361.11 150.98 L361.18 150.97 L361.47 150.95 L361.61 150.95 L361.75 150.94 L362.03 150.92 L362.11 150.91 L362.31 150.90 L362.60 150.88 L362.61 150.88 L362.88 150.86 L363.11 150.85 L363.16 150.84 L363.44 150.83 L363.61 150.82 L363.73 150.81 L364.01 150.79 L364.12 150.79 L364.29 150.78 L364.58 150.76 L364.62 150.76 L364.86 150.74 L365.12 150.73 L365.14 150.73 L365.42 150.71 L365.62 150.70 L365.71 150.69 L365.99 150.68 L366.12 150.67 L366.27 150.66 L366.55 150.65 L366.62 150.65 L366.84 150.63 L367.12 150.62 L367.12 150.62 L367.40 150.61 L367.62 150.59 L367.68 150.59 L367.97 150.58 L368.12 150.57 L368.25 150.56 L368.62 150.55 L369.13 150.52 L369.63 150.50 L370.13 150.48 L370.63 150.46 L371.13 150.44 L371.63 150.42 L372.13 150.39 L372.63 150.37 L373.13 150.35 L373.64 150.33 L374.14 150.31 L374.64 150.29 L375.14 150.26 L375.64 150.24 L376.14 150.23 L376.64 150.21 L377.14 150.19 L377.64 150.17 L378.15 150.16 L378.65 150.15 L379.15 150.13 L379.65 150.12 L380.15 150.12 L380.65 150.11 L381.15 150.10 L381.65 150.10 L382.15 150.10 L382.66 150.10 L383.16 150.11 L383.66 150.13 L384.16 150.15 L384.66 150.17 L385.16 150.20 L385.66 150.23 L386.16 150.26 L386.66 150.30 L387.17 150.33 L387.67 150.37 L388.17 150.41 L388.67 150.45 L389.17 150.49 L389.67 150.54 L390.17 150.58 L390.67 150.62 L391.17 150.66 L391.68 150.71 L392.18 150.75 L392.68 150.79 L393.18 150.84 L393.68 150.88 L394.18 150.93 L394.68 150.97 L395.18 151.02 L395.68 151.07 L396.19 151.12 L396.69 151.16 L397.19 151.21 L397.69 151.26 L398.19 151.31 L398.69 151.36 L399.19 151.42 L399.69 151.47 L400.19 151.52 L400.70 151.58 L401.20 151.64 L401.70 151.71 L402.20 151.78 L402.70 151.85 L403.20 151.92 L403.70 151.99 L404.20 152.06 L404.70 152.11 L405.21 152.17 L405.71 152.21 L406.21 152.25 L406.71 152.29 L407.21 152.32 L407.71 152.36 L408.21 152.40 L408.71 152.44 L409.21 152.47 L409.72 152.51 L410.22 152.54 L410.72 152.58 L411.22 152.61 L411.72 152.64 L412.22 152.68 L412.72 152.71 L413.22 152.74 L413.72 152.78 L414.23 152.81 L414.73 152.84 L415.23 152.87 L415.73 152.90 L416.23 152.93 L416.73 152.96 L417.23 152.99 L417.73 153.02 L418.23 153.05 L418.74 153.08 L419.24 153.11 L419.74 153.14 L420.24 153.17 L420.74 153.20 L421.24 153.23 L421.74 153.26 L422.24 153.29 L422.74 153.32 L423.25 153.35 L423.75 153.37 L424.25 153.40 L424.75 153.43 L425.25 153.46 L425.75 153.49 L426.25 153.52 L426.75 153.55 L427.25 153.58 L427.76 153.60 L428.26 153.63 L428.76 153.66 L429.26 153.69 L429.76 153.72 L430.26 153.75 L430.76 153.77 L431.26 153.80 L431.76 153.83 L432.27 153.86 L432.77 153.89 L433.27 153.91 L433.77 153.94 L434.27 153.97 L434.77 153.99 L435.27 154.02 L435.77 154.05 L436.27 154.08 L436.78 154.10 L437.28 154.13 L437.78 154.15 L438.28 154.18 L438.78 154.20 L439.28 154.23 L439.78 154.25 L440.28 154.28 L440.78 154.30 L441.29 154.33 L441.79 154.35 L442.29 154.38 L442.79 154.40 L443.29 154.42 L443.79 154.44 L444.29 154.47 L444.79 154.49 L445.29 154.51 L445.80 154.52 L446.30 154.54 L446.80 154.56 L447.30 154.58 L447.80 154.59 L448.30 154.61 L448.80 154.62 L449.30 154.63 L449.80 154.65 L450.31 154.66 L450.81 154.67 L451.31 154.68 L451.81 154.69 L452.31 154.70 L452.81 154.71 L453.31 154.72 L453.81 154.73 L454.31 154.74 L454.82 154.74 L455.32 154.75 L455.82 154.76 L456.32 154.76 L456.82 154.77 L457.32 154.77 L457.82 154.78 L458.32 154.78 L458.82 154.78 L459.33 154.79 L459.83 154.79 L460.33 154.79 L460.83 154.80 L461.33 154.80 L461.83 154.80 L462.33 154.80 L462.83 154.80 L463.33 154.80 L463.84 154.81 L464.34 154.80 L464.84 154.80 L465.34 154.80 L465.84 154.80 L466.34 154.80 L466.84 154.80 L467.34 154.79 L467.84 154.79 L468.35 154.78 L468.85 154.78 L469.35 154.77 L469.85 154.77 L470.35 154.76 L470.85 154.76 L471.35 154.75 L471.85 154.74 L472.35 154.73 L472.86 154.73 L473.36 154.72 L473.86 154.71 L474.36 154.70 L474.86 154.69 L475.36 154.68 L475.86 154.67 L476.36 154.66 L476.86 154.64 L477.37 154.63 L477.87 154.62 L478.37 154.61 L478.87 154.59 L479.37 154.58 L479.87 154.56 L480.37 154.55 L480.87 154.53 L481.37 154.52 L481.88 154.50" stroke="#3291cb"/>
<path d="M312.00 250.23 L312.28 249.39 L312.50 248.73 L312.57 248.54 L312.85 247.66 L313.00 247.18 L313.13 246.77 L313.41 245.86 L313.50 245.57 L313.70 244.93 L313.98 243.99 L314.00 243.90 L314.26 243.03 L314.51 242.18 L314.54 242.04 L314.83 241.05 L315.01 240.40 L315.11 240.03 L315.39 239.00 L315.51 238.57 L315.67 237.95 L315.96 236.89 L316.01 236.69 L316.24 235.81 L316.51 234.76 L316.52 234.71 L316.81 233.60 L317.01 232.77 L317.09 232.46 L317.37 231.29 L317.51 230.70 L317.65 230.11 L317.94 228.89 L318.01 228.56 L318.22 227.65 L318.50 226.38 L318.51 226.32 L318.78 225.08 L319.02 223.98 L319.07 223.74 L319.35 222.38 L319.52 221.56 L319.63 221.00 L319.91 219.59 L320.02 219.08 L320.20 218.17 L320.48 216.74 L320.52 216.54 L320.76 215.29 L321.02 213.97 L321.05 213.84 L321.33 212.37 L321.52 211.36 L321.61 210.88 L321.89 209.32 L322.02 208.59 L322.18 207.72 L322.46 206.10 L322.52 205.73 L322.74 204.49 L323.02 202.93 L323.02 202.92 L323.31 201.44 L323.53 200.35 L323.59 200.05 L323.87 198.76 L324.03 198.07 L324.15 197.51 L324.44 196.31 L324.53 195.93 L324.72 195.14 L325.00 193.99 L325.03 193.89 L325.29 192.86 L325.53 191.88 L325.57 191.73 L325.85 190.59 L326.03 189.85 L326.13 189.43 L326.42 188.27 L326.53 187.79 L326.70 187.11 L326.98 185.97 L327.03 185.76 L327.26 184.87 L327.53 183.86 L327.55 183.82 L327.83 182.83 L328.04 182.16 L328.11 181.91 L328.39 181.01 L328.54 180.56 L328.68 180.12 L328.96 179.24 L329.04 179.01 L329.24 178.38 L329.53 177.51 L329.54 177.47 L329.81 176.65 L330.04 175.95 L330.09 175.80 L330.37 174.93 L330.54 174.42 L330.66 174.07 L330.94 173.19 L331.04 172.87 L331.22 172.31 L331.50 171.41 L331.54 171.28 L331.79 170.51 L332.04 169.68 L332.07 169.60 L332.35 168.69 L332.55 168.06 L332.63 167.78 L332.92 166.87 L333.05 166.46 L333.20 165.97 L333.48 165.09 L333.55 164.88 L333.77 164.21 L334.05 163.36 L334.05 163.36 L334.33 162.60 L334.55 162.06 L334.61 161.91 L334.90 161.31 L335.05 161.00 L335.18 160.77 L335.46 160.29 L335.55 160.15 L335.74 159.87 L336.03 159.49 L336.05 159.46 L336.31 159.16 L336.55 158.89 L336.59 158.86 L336.87 158.58 L337.06 158.42 L337.16 158.33 L337.44 158.09 L337.56 157.99 L337.72 157.85 L338.01 157.61 L338.06 157.57 L338.29 157.37 L338.56 157.15 L338.57 157.14 L338.85 156.90 L339.06 156.73 L339.14 156.67 L339.42 156.44 L339.56 156.33 L339.70 156.22 L339.98 156.00 L340.06 155.94 L340.27 155.79 L340.55 155.58 L340.56 155.57 L340.83 155.38 L341.06 155.23 L341.11 155.19 L341.40 155.01 L341.57 154.91 L341.68 154.84 L341.96 154.68 L342.07 154.63 L342.24 154.53 L342.53 154.40 L342.57 154.38 L342.81 154.27 L343.07 154.17 L343.09 154.16 L343.38 154.06 L343.57 153.99 L343.66 153.95 L343.94 153.85 L344.07 153.80 L344.22 153.74 L344.51 153.63 L344.57 153.61 L344.79 153.53 L345.07 153.43 L345.07 153.43 L345.35 153.32 L345.57 153.25 L345.64 153.22 L345.92 153.13 L346.08 153.07 L346.20 153.03 L346.48 152.94 L346.58 152.91 L346.77 152.85 L347.05 152.76 L347.08 152.75 L347.33 152.67 L347.58 152.60 L347.62 152.59 L347.90 152.51 L348.08 152.47 L348.18 152.44 L348.46 152.37 L348.58 152.34 L348.75 152.30 L349.03 152.24 L349.08 152.23 L349.31 152.19 L349.58 152.14 L349.59 152.13 L349.88 152.09 L350.08 152.05 L350.16 152.04 L350.44 152.00 L350.59 151.98 L350.72 151.95 L351.01 151.91 L351.09 151.90 L351.29 151.87 L351.57 151.82 L351.59 151.82 L351.86 151.78 L352.09 151.75 L352.14 151.74 L352.42 151.70 L352.59 151.67 L352.70 151.66 L352.99 151.62 L353.09 151.60 L353.27 151.58 L353.55 151.54 L353.59 151.53 L353.83 151.50 L354.09 151.46 L354.12 151.46 L354.40 151.42 L354.59 151.40 L354.68 151.38 L354.96 151.35 L355.10 151.33 L355.25 151.31 L355.53 151.28 L355.60 151.27 L355.81 151.24 L356.10 151.21 L356.10 151.21 L356.38 151.18 L356.60 151.16 L356.66 151.15 L356.94 151.12 L357.10 151.10 L357.23 151.09 L357.51 151.06 L357.60 151.05 L357.79 151.03 L358.07 151.01 L358.10 151.01 L358.36 150.98 L358.60 150.96 L358.64 150.96 L358.92 150.94 L359.10 150.92 L359.20 150.91 L359.49 150.89 L359.61 150.89 L359.77 150.87 L360.05 150.85 L360.11 150.85 L360.34 150.83 L360.61 150.81 L360.62 150.81 L360.90 150.79 L361.11 150.77 L361.18 150.77 L361.47 150.74 L361.61 150.73 L361.75 150.72 L362.03 150.70 L362.11 150.69 L362.31 150.68 L362.60 150.66 L362.61 150.66 L362.88 150.64 L363.11 150.62 L363.16 150.62 L363.44 150.60 L363.61 150.59 L363.73 150.58 L364.01 150.56 L364.12 150.55 L364.29 150.54 L364.58 150.53 L364.62 150.53 L364.86 150.51 L365.12 150.50 L365.14 150.50 L365.42 150.49 L365.62 150.48 L365.71 150.47 L365.99 150.46 L366.12 150.46 L366.27 150.46 L366.55 150.45 L366.62 150.45 L366.84 150.44 L367.12 150.44 L367.12 150.44 L367.40 150.44 L367.62 150.44 L367.68 150.44 L367.97 150.44 L368.12 150.44 L368.25 150.44 L368.62 150.45 L369.13 150.47 L369.63 150.50 L370.13 150.53 L370.63 150.56 L371.13 150.59 L371.63 150.62 L372.13 150.66 L372.63 150.69 L373.13 150.72 L373.64 150.76 L374.14 150.80 L374.64 150.83 L375.14 150.87 L375.64 150.90 L376.14 150.94 L376.64 150.98 L377.14 151.02 L377.64 151.06 L378.15 151.09 L378.65 151.13 L379.15 151.17 L379.65 151.21 L380.15 151.25 L380.65 151.29 L381.15 151.33 L381.65 151.37 L382.15 151.41 L382.66 151.45 L383.16 151.49 L383.66 151.53 L384.16 151.57 L384.66 151.61 L385.16 151.65 L385.66 151.69 L386.16 151.73 L386.66 151.77 L387.17 151.82 L387.67 151.87 L388.17 151.92 L388.67 151.97 L389.17 152.02 L389.67 152.08 L390.17 152.13 L390.67 152.19 L391.17 152.25 L391.68 152.30 L392.18 152.36 L392.68 152.42 L393.18 152.48 L393.68 152.55 L394.18 152.61 L394.68 152.67 L395.18 152.73 L395.68 152.79 L396.19 152.85 L396.69 152.91 L397.19 152.97 L397.69 153.03 L398.19 153.09 L398.69 153.15 L399.19 153.21 L399.69 153.27 L400.19 153.32 L400.70 153.38 L401.20 153.43 L401.70 153.48 L402.20 153.54 L402.70 153.59 L403.20 153.64 L403.70 153.69 L404.20 153.75 L404.70 153.80 L405.21 153.86 L405.71 153.91 L406.21 153.97 L406.71 154.03 L407.21 154.09 L407.71 154.15 L408.21 154.21 L408.71 154.27 L409.21 154.33 L409.72 154.40 L410.22 154.46 L410.72 154.53 L411.22 154.59 L411.72 154.66 L412.22 154.73 L412.72 154.79 L413.22 154.86 L413.72 154.93 L414.23 155.00 L414.73 155.06 L415.23 155.13 L415.73 155.20 L416.23 155.27 L416.73 155.34 L417.23 155.40 L417.73 155.47 L418.23 155.54 L418.74 155.61 L419.24 155.67 L419.74 155.74 L420.24 155.80 L420.74 155.87 L421.24 155.93 L421.74 156.00 L422.24 156.06 L422.74 156.12 L423.25 156.19 L423.75 156.25 L424.25 156.31 L424.75 156.36 L425.25 156.42 L425.75 156.48 L426.25 156.54 L426.75 156.60 L427.25 156.65 L427.76 156.71 L428.26 156.77 L428.76 156.82 L429.26 156.88 L429.76 156.93 L430.26 156.99 L430.76 157.04 L431.26 157.09 L431.76 157.15 L432.27 157.20 L432.77 157.25 L433.27 157.30 L433.77 157.35 L434.27 157.40 L434.77 157.45 L435.27 157.50 L435.77 157.55 L436.27 157.60 L436.78 157.65 L437.28 157.70 L437.78 157.75 L438.28 157.79 L438.78 157.84 L439.28 157.89 L439.78 157.93 L440.28 157.98 L440.78 158.02 L441.29 158.07 L441.79 158.11 L442.29 158.16 L442.79 158.20 L443.29 158.24 L443.79 158.28 L444.29 158.33 L444.79 158.37 L445.29 158.41 L445.80 158.45 L446.30 158.49 L446.80 158.53 L447.30 158.57 L447.80 158.61 L448.30 158.64 L448.80 158.68 L449.30 158.72 L449.80 158.76 L450.31 158.79 L450.81 158.83 L451.31 158.86 L451.81 158.90 L452.31 158.93 L452.81 158.97 L453.31 159.00 L453.81 159.04 L454.31 159.07 L454.82 159.10 L455.32 159.14 L455.82 159.17 L456.32 159.20 L456.82 159.23 L457.32 159.26 L457.82 159.29 L458.32 159.32 L458.82 159.35 L459.33 159.38 L459.83 159.41 L460.33 159.44 L460.83 159.47 L461.33 159.50 L461.83 159.52 L462.33 159.55 L462.83 159.58 L463.33 159.61 L463.84 159.63 L464.34 159.66 L464.84 159.68 L465.34 159.71 L465.84 159.74 L466.34 159.76 L466.84 159.79 L467.34 159.81 L467.84 159.84 L468.35 159.86 L468.85 159.88 L469.35 159.91 L469.85 159.93 L470.35 159.95 L470.85 159.98 L471.35 160.00 L471.85 160.02 L472.35 160.04 L472.86 160.07 L473.36 160.09 L473.86 160.11 L474.36 160.13 L474.86 160.15 L475.36 160.17 L475.86 160.19 L476.36 160.21 L476.86 160.23 L477.37 160.25 L477.87 160.26 L478.37 160.28 L478.87 160.30 L479.37 160.32 L479.87 160.33 L480.37 160.35 L480.87 160.37 L481.37 160.38 L481.88 160.40" stroke="#f19b1d"/>
<path d="M312.00 250.23 L312.28 249.80 L312.50 249.46 L312.57 249.36 L312.85 248.93 L313.00 248.68 L313.13 248.48 L313.41 248.03 L313.50 247.89 L313.70 247.58 L313.98 247.12 L314.00 247.08 L314.26 246.66 L314.51 246.26 L314.54 246.19 L314.83 245.71 L315.01 245.40 L315.11 245.21 L315.39 244.71 L315.51 244.51 L315.67 244.21 L315.96 243.71 L316.01 243.62 L316.24 243.22 L316.51 242.77 L316.52 242.75 L316.81 242.29 L317.01 241.97 L317.09 241.85 L317.37 241.41 L317.51 241.20 L317.65 240.98 L317.94 240.55 L318.01 240.43 L318.22 240.13 L318.50 239.70 L318.51 239.68 L318.78 239.28 L319.02 238.94 L319.07 238.87 L319.35 238.46 L319.52 238.21 L319.63 238.05 L319.91 237.64 L320.02 237.49 L320.20 237.23 L320.48 236.83 L320.52 236.77 L320.76 236.43 L321.02 236.06 L321.05 236.03 L321.33 235.63 L321.52 235.35 L321.61 235.23 L321.89 234.83 L322.02 234.65 L322.18 234.43 L322.46 234.03 L322.52 233.94 L322.74 233.63 L323.02 233.24 L323.02 233.24 L323.31 232.84 L323.53 232.53 L323.59 232.44 L323.87 232.04 L324.03 231.83 L324.15 231.65 L324.44 231.25 L324.53 231.12 L324.72 230.85 L325.00 230.46 L325.03 230.42 L325.29 230.06 L325.53 229.73 L325.57 229.68 L325.85 229.29 L326.03 229.05 L326.13 228.91 L326.42 228.54 L326.53 228.38 L326.70 228.17 L326.98 227.79 L327.03 227.73 L327.26 227.42 L327.53 227.07 L327.55 227.05 L327.83 226.68 L328.04 226.41 L328.11 226.31 L328.39 225.94 L328.54 225.75 L328.68 225.56 L328.96 225.18 L329.04 225.08 L329.24 224.80 L329.53 224.42 L329.54 224.40 L329.81 224.02 L330.04 223.70 L330.09 223.63 L330.37 223.22 L330.54 222.98 L330.66 222.81 L330.94 222.39 L331.04 222.24 L331.22 221.92 L331.50 221.33 L331.54 221.24 L331.79 220.62 L332.04 219.91 L332.07 219.84 L332.35 219.00 L332.55 218.41 L332.63 218.13 L332.92 217.26 L333.05 216.86 L333.20 216.40 L333.48 215.55 L333.55 215.35 L333.77 214.69 L334.05 213.84 L334.05 213.83 L334.33 212.98 L334.55 212.31 L334.61 212.12 L334.90 211.25 L335.05 210.78 L335.18 210.39 L335.46 209.51 L335.55 209.23 L335.74 208.64 L336.03 207.76 L336.05 207.67 L336.31 206.87 L336.55 206.10 L336.59 205.98 L336.87 205.09 L337.06 204.51 L337.16 204.19 L337.44 203.28 L337.56 202.89 L337.72 202.35 L338.01 201.41 L338.06 201.23 L338.29 200.44 L338.56 199.47 L338.57 199.43 L338.85 198.36 L339.06 197.56 L339.14 197.27 L339.42 196.18 L339.56 195.64 L339.70 195.13 L339.98 194.09 L340.06 193.81 L340.27 193.06 L340.55 192.03 L340.56 191.98 L340.83 191.00 L341.06 190.17 L341.11 189.99 L341.40 188.98 L341.57 188.38 L341.68 187.97 L341.96 186.98 L342.07 186.62 L342.24 186.00 L342.53 185.03 L342.57 184.89 L342.81 184.07 L343.07 183.21 L343.09 183.13 L343.38 182.20 L343.57 181.57 L343.66 181.28 L343.94 180.39 L344.07 179.98 L344.22 179.51 L344.51 178.67 L344.57 178.48 L344.79 177.86 L345.07 177.07 L345.07 177.07 L345.35 176.31 L345.57 175.74 L345.64 175.58 L345.92 174.87 L346.08 174.49 L346.20 174.18 L346.48 173.51 L346.58 173.30 L346.77 172.86 L347.05 172.23 L347.08 172.17 L347.33 171.60 L347.58 171.07 L347.62 170.99 L347.90 170.39 L348.08 170.01 L348.18 169.80 L348.46 169.22 L348.58 168.98 L348.75 168.64 L349.03 168.06 L349.08 167.95 L349.31 167.48 L349.58 166.93 L349.59 166.90 L349.88 166.33 L350.08 165.91 L350.16 165.76 L350.44 165.20 L350.59 164.92 L350.72 164.65 L351.01 164.10 L351.09 163.95 L351.29 163.57 L351.57 163.05 L351.59 163.02 L351.86 162.54 L352.09 162.14 L352.14 162.05 L352.42 161.58 L352.59 161.31 L352.70 161.13 L352.99 160.69 L353.09 160.54 L353.27 160.28 L353.55 159.89 L353.59 159.84 L353.83 159.53 L354.09 159.21 L354.12 159.18 L354.40 158.83 L354.59 158.60 L354.68 158.50 L354.96 158.18 L355.10 158.04 L355.25 157.87 L355.53 157.57 L355.60 157.50 L355.81 157.28 L356.10 157.00 L356.10 157.00 L356.38 156.74 L356.60 156.54 L356.66 156.48 L356.94 156.24 L357.10 156.11 L357.23 156.00 L357.51 155.78 L357.60 155.71 L357.79 155.57 L358.07 155.37 L358.10 155.35 L358.36 155.19 L358.60 155.03 L358.64 155.01 L358.92 154.85 L359.10 154.75 L359.20 154.70 L359.49 154.56 L359.61 154.50 L359.77 154.42 L360.05 154.29 L360.11 154.26 L360.34 154.15 L360.61 154.02 L360.62 154.02 L360.90 153.88 L361.11 153.79 L361.18 153.75 L361.47 153.62 L361.61 153.55 L361.75 153.49 L362.03 153.36 L362.11 153.32 L362.31 153.23 L362.60 153.11 L362.61 153.10 L362.88 152.98 L363.11 152.88 L363.16 152.86 L363.44 152.74 L363.61 152.67 L363.73 152.62 L364.01 152.51 L364.12 152.46 L364.29 152.39 L364.58 152.28 L364.62 152.26 L364.86 152.17 L365.12 152.07 L365.14 152.06 L365.42 151.96 L365.62 151.89 L365.71 151.86 L365.99 151.76 L366.12 151.71 L366.27 151.66 L366.55 151.57 L366.62 151.55 L366.84 151.48 L367.12 151.40 L367.12 151.40 L367.40 151.31 L367.62 151.25 L367.68 151.23 L367.97 151.16 L368.12 151.12 L368.25 151.09 L368.62 150.99 L369.13 150.87 L369.63 150.74 L370.13 150.62 L370.63 150.49 L371.13 150.36 L371.63 150.24 L372.13 150.12 L372.63 150.00 L373.13 149.88 L373.64 149.77 L374.14 149.66 L374.64 149.55 L375.14 149.45 L375.64 149.36 L376.14 149.27 L376.64 149.18 L377.14 149.10 L377.64 149.03 L378.15 148.97 L378.65 148.91 L379.15 148.84 L379.65 148.78 L380.15 148.72 L380.65 148.66 L381.15 148.60 L381.65 148.54 L382.15 148.48 L382.66 148.42 L383.16 148.37 L383.66 148.31 L384.16 148.26 L384.66 148.21 L385.16 148.16 L385.66 148.11 L386.16 148.07 L386.66 148.03 L387.17 147.99 L387.67 147.95 L388.17 147.91 L388.67 147.87 L389.17 147.83 L389.67 147.79 L390.17 147.75 L390.67 147.71 L391.17 147.67 L391.68 147.63 L392.18 147.60 L392.68 147.56 L393.18 147.52 L393.68 147.48 L394.18 147.44 L394.68 147.40 L395.18 147.36 L395.68 147.33 L396.19 147.29 L396.69 147.25 L397.19 147.21 L397.69 147.17 L398.19 147.14 L398.69 147.10 L399.19 147.06 L399.69 147.02 L400.19 146.99 L400.70 146.95 L401.20 146.91 L401.70 146.87 L402.20 146.83 L402.70 146.80 L403.20 146.76 L403.70 146.72 L404.20 146.69 L404.70 146.66 L405.21 146.62 L405.71 146.59 L406.21 146.57 L406.71 146.54 L407.21 146.51 L407.71 146.49 L408.21 146.46 L408.71 146.44 L409.21 146.42 L409.72 146.40 L410.22 146.38 L410.72 146.36 L411.22 146.34 L411.72 146.32 L412.22 146.30 L412.72 146.29 L413.22 146.27 L413.72 146.25 L414.23 146.24 L414.73 146.22 L415.23 146.21 L415.73 146.20 L416.23 146.18 L416.73 146.17 L417.23 146.16 L417.73 146.15 L418.23 146.14 L418.74 146.12 L419.24 146.11 L419.74 146.10 L420.24 146.09 L420.74 146.08 L421.24 146.07 L421.74 146.06 L422.24 146.05 L422.74 146.03 L423.25 146.02 L423.75 146.01 L424.25 146.00 L424.75 145.99 L425.25 145.97 L425.75 145.96 L426.25 145.95 L426.75 145.94 L427.25 145.93 L427.76 145.91 L428.26 145.90 L428.76 145.89 L429.26 145.88 L429.76 145.86 L430.26 145.85 L430.76 145.84 L431.26 145.83 L431.76 145.81 L432.27 145.80 L432.77 145.79 L433.27 145.78 L433.77 145.77 L434.27 145.75 L434.77 145.74 L435.27 145.73 L435.77 145.72 L436.27 145.71 L436.78 145.70 L437.28 145.69 L437.78 145.68 L438.28 145.67 L438.78 145.66 L439.28 145.65 L439.78 145.64 L440.28 145.63 L440.78 145.63 L441.29 145.62 L441.79 145.61 L442.29 145.61 L442.79 145.60 L443.29 145.59 L443.79 145.59 L444.29 145.58 L444.79 145.58 L445.29 145.57 L445.80 145.57 L446.30 145.56 L446.80 145.55 L447.30 145.55 L447.80 145.54 L448.30 145.54 L448.80 145.53 L449.30 145.53 L449.80 145.52 L450.31 145.52 L450.81 145.51 L451.31 145.50 L451.81 145.50 L452.31 145.49 L452.81 145.49 L453.31 145.48 L453.81 145.48 L454.31 145.47 L454.82 145.47 L455.32 145.46 L455.82 145.46 L456.32 145.45 L456.82 145.45 L457.32 145.44 L457.82 145.44 L458.32 145.43 L458.82 145.43 L459.33 145.42 L459.83 145.42 L460.33 145.41 L460.83 145.41 L461.33 145.40 L461.83 145.40 L462.33 145.39 L462.83 145.39 L463.33 145.38 L463.84 145.38 L464.34 145.37 L464.84 145.37 L465.34 145.36 L465.84 145.36 L466.34 145.35 L466.84 145.35 L467.34 145.34 L467.84 145.34 L468.35 145.33 L468.85 145.33 L469.35 145.32 L469.85 145.32 L470.35 145.31 L470.85 145.31 L471.35 145.30 L471.85 145.30 L472.35 145.29 L472.86 145.29 L473.36 145.28 L473.86 145.28 L474.36 145.27 L474.86 145.27 L475.36 145.26 L475.86 145.26 L476.36 145.25 L476.86 145.25 L477.37 145.24 L477.87 145.24 L478.37 145.23 L478.87 145.23 L479.37 145.22 L479.87 145.22 L480.37 145.21 L480.87 145.21 L481.37 145.20 L481.88 145.20" stroke="#6bb033"/>
<path d="M312.00 250.23 L312.28 249.88 L312.50 249.61 L312.57 249.53 L312.85 249.18 L313.00 248.99 L313.13 248.84 L313.41 248.50 L313.50 248.39 L313.70 248.16 L313.98 247.82 L314.00 247.79 L314.26 247.49 L314.51 247.19 L314.54 247.15 L314.83 246.82 L315.01 246.61 L315.11 246.49 L315.39 246.18 L315.51 246.05 L315.67 245.87 L315.96 245.57 L316.01 245.51 L316.24 245.27 L316.51 244.99 L316.52 244.97 L316.81 244.68 L317.01 244.46 L317.09 244.38 L317.37 244.09 L317.51 243.94 L317.65 243.79 L317.94 243.49 L318.01 243.41 L318.22 243.18 L318.50 242.87 L318.51 242.86 L318.78 242.55 L319.02 242.28 L319.07 242.22 L319.35 241.89 L319.52 241.68 L319.63 241.54 L319.91 241.18 L320.02 241.04 L320.20 240.80 L320.48 240.42 L320.52 240.36 L320.76 240.01 L321.02 239.64 L321.05 239.60 L321.33 239.18 L321.52 238.89 L321.61 238.75 L321.89 238.31 L322.02 238.10 L322.18 237.86 L322.46 237.41 L322.52 237.30 L322.74 236.95 L323.02 236.48 L323.02 236.48 L323.31 236.02 L323.53 235.66 L323.59 235.55 L323.87 235.08 L324.03 234.83 L324.15 234.62 L324.44 234.15 L324.53 234.00 L324.72 233.69 L325.00 233.23 L325.03 233.18 L325.29 232.77 L325.53 232.38 L325.57 232.32 L325.85 231.88 L326.03 231.60 L326.13 231.44 L326.42 231.01 L326.53 230.84 L326.70 230.59 L326.98 230.17 L327.03 230.10 L327.26 229.76 L327.53 229.37 L327.55 229.35 L327.83 228.94 L328.04 228.64 L328.11 228.53 L328.39 228.12 L328.54 227.92 L328.68 227.71 L328.96 227.30 L329.04 227.19 L329.24 226.89 L329.53 226.47 L329.54 226.45 L329.81 226.04 L330.04 225.69 L330.09 225.61 L330.37 225.18 L330.54 224.91 L330.66 224.73 L330.94 224.27 L331.04 224.10 L331.22 223.78 L331.50 223.25 L331.54 223.17 L331.79 222.68 L332.04 222.14 L332.07 222.08 L332.35 221.45 L332.55 221.00 L332.63 220.79 L332.92 220.10 L333.05 219.78 L333.20 219.39 L333.48 218.66 L333.55 218.49 L333.77 217.90 L334.05 217.13 L334.05 217.12 L334.33 216.34 L334.55 215.71 L334.61 215.53 L334.90 214.71 L335.05 214.26 L335.18 213.89 L335.46 213.06 L335.55 212.79 L335.74 212.23 L336.03 211.40 L336.05 211.32 L336.31 210.57 L336.55 209.84 L336.59 209.73 L336.87 208.89 L337.06 208.35 L337.16 208.04 L337.44 207.20 L337.56 206.85 L337.72 206.35 L338.01 205.49 L338.06 205.33 L338.29 204.63 L338.56 203.80 L338.57 203.76 L338.85 202.89 L339.06 202.25 L339.14 202.01 L339.42 201.15 L339.56 200.71 L339.70 200.29 L339.98 199.46 L340.06 199.23 L340.27 198.64 L340.55 197.82 L340.56 197.78 L340.83 197.01 L341.06 196.35 L341.11 196.20 L341.40 195.39 L341.57 194.90 L341.68 194.56 L341.96 193.73 L342.07 193.42 L342.24 192.89 L342.53 192.06 L342.57 191.94 L342.81 191.23 L343.07 190.47 L343.09 190.39 L343.38 189.56 L343.57 188.99 L343.66 188.73 L343.94 187.90 L344.07 187.51 L344.22 187.06 L344.51 186.23 L344.57 186.04 L344.79 185.40 L345.07 184.56 L345.07 184.56 L345.35 183.73 L345.57 183.08 L345.64 182.90 L345.92 182.06 L346.08 181.60 L346.20 181.23 L346.48 180.40 L346.58 180.13 L346.77 179.56 L347.05 178.73 L347.08 178.65 L347.33 177.90 L347.58 177.17 L347.62 177.06 L347.90 176.23 L348.08 175.69 L348.18 175.39 L348.46 174.56 L348.58 174.21 L348.75 173.73 L349.03 172.89 L349.08 172.74 L349.31 172.06 L349.58 171.27 L349.59 171.24 L349.88 170.48 L350.08 169.95 L350.16 169.77 L350.44 169.11 L350.59 168.80 L350.72 168.50 L351.01 167.93 L351.09 167.78 L351.29 167.40 L351.57 166.90 L351.59 166.87 L351.86 166.43 L352.09 166.06 L352.14 165.98 L352.42 165.56 L352.59 165.32 L352.70 165.15 L352.99 164.76 L353.09 164.62 L353.27 164.38 L353.55 164.00 L353.59 163.94 L353.83 163.62 L354.09 163.28 L354.12 163.24 L354.40 162.87 L354.59 162.62 L354.68 162.50 L354.96 162.14 L355.10 161.97 L355.25 161.78 L355.53 161.42 L355.60 161.34 L355.81 161.08 L356.10 160.74 L356.10 160.74 L356.38 160.41 L356.60 160.16 L356.66 160.09 L356.94 159.79 L357.10 159.62 L357.23 159.49 L357.51 159.21 L357.60 159.12 L357.79 158.94 L358.07 158.68 L358.10 158.66 L358.36 158.44 L358.60 158.24 L358.64 158.22 L358.92 158.01 L359.10 157.89 L359.20 157.82 L359.49 157.65 L359.61 157.58 L359.77 157.48 L360.05 157.32 L360.11 157.29 L360.34 157.15 L360.61 157.00 L360.62 156.99 L360.90 156.83 L361.11 156.71 L361.18 156.67 L361.47 156.51 L361.61 156.43 L361.75 156.35 L362.03 156.19 L362.11 156.15 L362.31 156.03 L362.60 155.88 L362.61 155.87 L362.88 155.73 L363.11 155.60 L363.16 155.58 L363.44 155.43 L363.61 155.34 L363.73 155.28 L364.01 155.13 L364.12 155.08 L364.29 154.99 L364.58 154.84 L364.62 154.82 L364.86 154.70 L365.12 154.57 L365.14 154.56 L365.42 154.43 L365.62 154.33 L365.71 154.29 L365.99 154.16 L366.12 154.10 L366.27 154.03 L366.55 153.90 L366.62 153.87 L366.84 153.77 L367.12 153.65 L367.12 153.65 L367.40 153.53 L367.62 153.44 L367.68 153.41 L367.97 153.29 L368.12 153.23 L368.25 153.18 L368.62 153.03 L369.13 152.83 L369.63 152.63 L370.13 152.43 L370.63 152.23 L371.13 152.04 L371.63 151.84 L372.13 151.64 L372.63 151.45 L373.13 151.25 L373.64 151.06 L374.14 150.87 L374.64 150.68 L375.14 150.49 L375.64 150.31 L376.14 150.12 L376.64 149.94 L377.14 149.76 L377.64 149.59 L378.15 149.41 L378.65 149.24 L379.15 149.06 L379.65 148.89 L380.15 148.71 L380.65 148.53 L381.15 148.36 L381.65 148.19 L382.15 148.02 L382.66 147.86 L383.16 147.71 L383.66 147.56 L384.16 147.42 L384.66 147.28 L385.16 147.16 L385.66 147.05 L386.16 146.94 L386.66 146.85 L387.17 146.78 L387.67 146.70 L388.17 146.63 L388.67 146.56 L389.17 146.49 L389.67 146.42 L390.17 146.35 L390.67 146.28 L391.17 146.22 L391.68 146.16 L392.18 146.09 L392.68 146.03 L393.18 145.97 L393.68 145.91 L394.18 145.85 L394.68 145.79 L395.18 145.73 L395.68 145.68 L396.19 145.62 L396.69 145.56 L397.19 145.51 L397.69 145.45 L398.19 145.40 L398.69 145.34 L399.19 145.29 L399.69 145.23 L400.19 145.18 L400.70 145.13 L401.20 145.07 L401.70 145.02 L402.20 144.96 L402.70 144.91 L403.20 144.86 L403.70 144.80 L404.20 144.75 L404.70 144.70 L405.21 144.64 L405.71 144.59 L406.21 144.53 L406.71 144.48 L407.21 144.42 L407.71 144.36 L408.21 144.30 L408.71 144.23 L409.21 144.17 L409.72 144.10 L410.22 144.04 L410.72 143.97 L411.22 143.91 L411.72 143.84 L412.22 143.78 L412.72 143.71 L413.22 143.64 L413.72 143.58 L414.23 143.51 L414.73 143.45 L415.23 143.38 L415.73 143.32 L416.23 143.25 L416.73 143.19 L417.23 143.13 L417.73 143.07 L418.23 143.02 L418.74 142.96 L419.24 142.91 L419.74 142.86 L420.24 142.81 L420.74 142.76 L421.24 142.71 L421.74 142.67 L422.24 142.63 L422.74 142.59 L423.25 142.56 L423.75 142.53 L424.25 142.50 L424.75 142.47 L425.25 142.44 L425.75 142.42 L426.25 142.39 L426.75 142.36 L427.25 142.34 L427.76 142.31 L428.26 142.28 L428.76 142.25 L429.26 142.23 L429.76 142.20 L430.26 142.17 L430.76 142.15 L431.26 142.12 L431.76 142.09 L432.27 142.07 L432.77 142.04 L433.27 142.01 L433.77 141.99 L434.27 141.96 L434.77 141.93 L435.27 141.90 L435.77 141.88 L436.27 141.85 L436.78 141.82 L437.28 141.80 L437.78 141.77 L438.28 141.74 L438.78 141.72 L439.28 141.69 L439.78 141.66 L440.28 141.64 L440.78 141.61 L441.29 141.58 L441.79 141.55 L442.29 141.53 L442.79 141.50 L443.29 141.47 L443.79 141.45 L444.29 141.42 L444.79 141.39 L445.29 141.37 L445.80 141.34 L446.30 141.31 L446.80 141.29 L447.30 141.26 L447.80 141.23 L448.30 141.20 L448.80 141.18 L449.30 141.15 L449.80 141.12 L450.31 141.10 L450.81 141.07 L451.31 141.04 L451.81 141.02 L452.31 140.99 L452.81 140.96 L453.31 140.93 L453.81 140.91 L454.31 140.88 L454.82 140.85 L455.32 140.83 L455.82 140.80 L456.32 140.77 L456.82 140.75 L457.32 140.72 L457.82 140.69 L458.32 140.67 L458.82 140.64 L459.33 140.61 L459.83 140.58 L460.33 140.56 L460.83 140.53 L461.33 140.50 L461.83 140.48 L462.33 140.45 L462.83 140.43 L463.33 140.40 L463.84 140.38 L464.34 140.36 L464.84 140.34 L465.34 140.31 L465.84 140.29 L466.34 140.27 L466.84 140.26 L467.34 140.24 L467.84 140.22 L468.35 140.20 L468.85 140.19 L469.35 140.17 L469.85 140.16 L470.35 140.14 L470.85 140.13 L471.35 140.11 L471.85 140.10 L472.35 140.09 L472.86 140.08 L473.36 140.06 L473.86 140.05 L474.36 140.04 L474.86 140.03 L475.36 140.02 L475.86 140.01 L476.36 140.00 L476.86 139.99 L477.37 139.98 L477.87 139.97 L478.37 139.96 L478.87 139.95 L479.37 139.94 L479.87 139.93 L480.37 139.93 L480.87 139.92 L481.37 139.91 L481.88 139.90" stroke="#ec5b2d"/>
<path d="M327.95 179.25 l2.80 -2.75 l2.80 2.75 l-2.80 2.75 zM346.70 154.08 l2.80 -2.75 l2.80 2.75 l-2.80 2.75 zM365.45 151.56 l2.80 -2.75 l2.80 2.75 l-2.80 2.75 zM384.20 151.32 l2.80 -2.75 l2.80 2.75 l-2.80 2.75 zM402.95 153.21 l2.80 -2.75 l2.80 2.75 l-2.80 2.75 zM421.70 154.42 l2.80 -2.75 l2.80 2.75 l-2.80 2.75 zM440.45 155.42 l2.80 -2.75 l2.80 2.75 l-2.80 2.75 zM459.20 155.80 l2.80 -2.75 l2.80 2.75 l-2.80 2.75 zM477.95 155.54 l2.80 -2.75 l2.80 2.75 l-2.80 2.75 z" fill="#3291cb" stroke="none"/>
<path d="M327.95 174.78 l2.80 -2.75 l2.80 2.75 l-2.80 2.75 zM346.70 153.15 l2.80 -2.75 l2.80 2.75 l-2.80 2.75 zM365.45 151.44 l2.80 -2.75 l2.80 2.75 l-2.80 2.75 zM384.20 152.80 l2.80 -2.75 l2.80 2.75 l-2.80 2.75 zM402.95 154.92 l2.80 -2.75 l2.80 2.75 l-2.80 2.75 zM421.70 157.34 l2.80 -2.75 l2.80 2.75 l-2.80 2.75 zM440.45 159.24 l2.80 -2.75 l2.80 2.75 l-2.80 2.75 zM459.20 160.53 l2.80 -2.75 l2.80 2.75 l-2.80 2.75 zM477.95 161.36 l2.80 -2.75 l2.80 2.75 l-2.80 2.75 z" fill="#f19b1d" stroke="none"/>
<path d="M327.95 223.67 l2.80 -2.75 l2.80 2.75 l-2.80 2.75 zM346.70 168.10 l2.80 -2.75 l2.80 2.75 l-2.80 2.75 zM365.45 152.09 l2.80 -2.75 l2.80 2.75 l-2.80 2.75 zM384.20 149.00 l2.80 -2.75 l2.80 2.75 l-2.80 2.75 zM402.95 147.59 l2.80 -2.75 l2.80 2.75 l-2.80 2.75 zM421.70 146.99 l2.80 -2.75 l2.80 2.75 l-2.80 2.75 zM440.45 146.59 l2.80 -2.75 l2.80 2.75 l-2.80 2.75 zM459.20 146.39 l2.80 -2.75 l2.80 2.75 l-2.80 2.75 zM477.95 146.21 l2.80 -2.75 l2.80 2.75 l-2.80 2.75 z" fill="#6bb033" stroke="none"/>
<path d="M327.95 225.58 l2.80 -2.75 l2.80 2.75 l-2.80 2.75 zM346.70 172.51 l2.80 -2.75 l2.80 2.75 l-2.80 2.75 zM365.45 154.18 l2.80 -2.75 l2.80 2.75 l-2.80 2.75 zM384.20 147.80 l2.80 -2.75 l2.80 2.75 l-2.80 2.75 zM402.95 145.58 l2.80 -2.75 l2.80 2.75 l-2.80 2.75 zM421.70 143.48 l2.80 -2.75 l2.80 2.75 l-2.80 2.75 zM440.45 142.48 l2.80 -2.75 l2.80 2.75 l-2.80 2.75 zM459.20 141.47 l2.80 -2.75 l2.80 2.75 l-2.80 2.75 zM477.95 140.92 l2.80 -2.75 l2.80 2.75 l-2.80 2.75 z" fill="#ec5b2d" stroke="none"/>
</g>
<path d="M312.00 124.20 v3.80M321.38 124.20 v2.60M330.75 124.20 v2.60M340.12 124.20 v2.60M349.50 124.20 v3.80M358.88 124.20 v2.60M368.25 124.20 v2.60M377.62 124.20 v2.60M387.00 124.20 v3.80M396.38 124.20 v2.60M405.75 124.20 v2.60M415.12 124.20 v2.60M424.50 124.20 v3.80M433.88 124.20 v2.60M443.25 124.20 v2.60M452.62 124.20 v2.60M462.00 124.20 v3.80M471.38 124.20 v2.60M480.75 124.20 v2.60M312.20 245.50 h3.80M312.20 237.62 h2.60M312.20 229.74 h2.60M312.20 221.86 h2.60M312.20 213.98 h2.60M312.20 206.10 h3.80M312.20 198.22 h2.60M312.20 190.34 h2.60M312.20 182.46 h2.60M312.20 174.58 h2.60M312.20 166.70 h3.80M312.20 158.82 h2.60M312.20 150.94 h2.60M312.20 143.06 h2.60M312.20 135.18 h2.60M312.20 127.30 h3.80" stroke="#000" stroke-width="1.1" fill="none"/>
<rect x="312.20" y="124.20" width="169.50" height="127.10" fill="none" stroke="#000" stroke-width="1.8"/>
<g font-family="'Liberation Serif', serif" font-size="20" fill="#000" opacity="0.999">
<text x="67.4" y="14.70" text-anchor="end">100</text>
<text x="309.3" y="132.60" text-anchor="end">100</text>
<text x="67.4" y="93.53" text-anchor="end">50</text>
<text x="309.3" y="172.00" text-anchor="end">50</text>
<text x="67.4" y="172.35" text-anchor="end">0</text>
<text x="309.3" y="211.40" text-anchor="end">0</text>
<text x="67.4" y="251.18" text-anchor="end">−<tspan dx="0.9">50</tspan></text>
<text x="309.3" y="250.10" text-anchor="end">−<tspan dx="0.9">50</tspan></text>
<text x="70.80" y="275.8" text-anchor="middle">0</text>
<text x="173.60" y="275.8" text-anchor="middle">2</text>
<text x="276.40" y="275.8" text-anchor="middle">4</text>
<text x="379.20" y="275.8" text-anchor="middle">6</text>
<text x="482.00" y="275.8" text-anchor="middle">8</text>
<text x="312.00" y="115.9" text-anchor="middle">0.0</text>
<text x="349.50" y="115.9" text-anchor="middle">0.2</text>
<text x="387.00" y="115.9" text-anchor="middle">0.4</text>
<text x="424.50" y="115.9" text-anchor="middle">0.6</text>
<text x="462.00" y="115.9" text-anchor="middle">0.8</text>
<text x="239.6" y="307.4" font-style="italic" font-size="19.5">Q</text>
<text x="253.9" y="299.3" font-size="13">2</text>
<path d="M262.9 310.6 L268.2 292.3" stroke="#000" stroke-width="1.25" fill="none"/>
<text x="269.3" y="307.4" font-size="19.5">GeV</text>
<text x="306.0" y="299.3" font-size="13">2</text>
<g transform="rotate(-90)">
<text x="-155.9" y="18.0" font-style="italic" font-size="19">φ</text>
<text x="-145.6" y="20.9" font-size="13.5">A</text>
<text x="-136.4" y="23.0" font-size="9.8">1</text>
<text x="-127.6" y="23.0" font-size="9.8">2</text>
</g>
<path d="M23.5 130.9 L15.9 128.3" stroke="#000" stroke-width="0.95" fill="none"/>
<path d="M4.4 114.4 L20.6 119.5" stroke="#000" stroke-width="1.25" fill="none"/>
<circle cx="12.4" cy="108" r="3.2" fill="none" stroke="#000" stroke-width="1.15"/>
</g>
</svg>
</body></html>
